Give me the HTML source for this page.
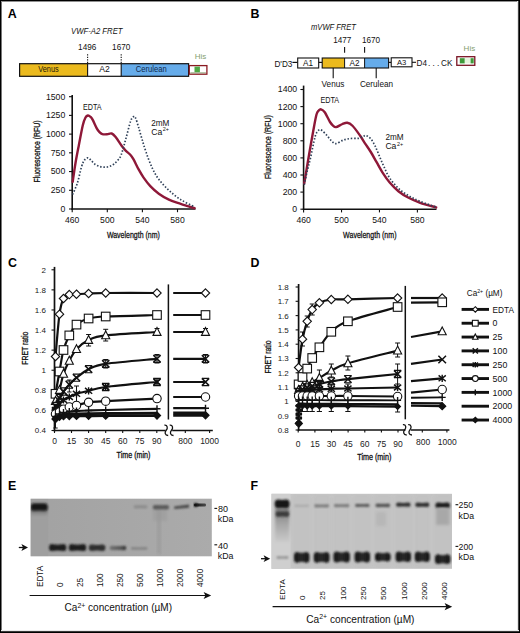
<!DOCTYPE html>
<html><head><meta charset="utf-8"><title>FRET figure</title>
<style>html,body{margin:0;padding:0;background:#fff;}body{width:520px;height:633px;overflow:hidden;position:relative;font-family:"Liberation Sans",sans-serif;}</style>
</head><body>
<svg width="520" height="633" viewBox="0 0 520 633" style="position:absolute;left:0;top:0">
<defs>
<filter id="b6" x="-20%" y="-50%" width="140%" height="200%"><feGaussianBlur stdDeviation="0.6"/></filter>
<filter id="b7" x="-20%" y="-50%" width="140%" height="200%"><feGaussianBlur stdDeviation="0.7"/></filter>
<filter id="b8" x="-20%" y="-50%" width="140%" height="200%"><feGaussianBlur stdDeviation="0.8"/></filter>
<filter id="b9" x="-20%" y="-50%" width="140%" height="200%"><feGaussianBlur stdDeviation="0.9"/></filter>
<filter id="b10" x="-20%" y="-50%" width="140%" height="200%"><feGaussianBlur stdDeviation="1.0"/></filter>
<filter id="b11" x="-20%" y="-50%" width="140%" height="200%"><feGaussianBlur stdDeviation="1.1"/></filter>
<filter id="b12" x="-20%" y="-50%" width="140%" height="200%"><feGaussianBlur stdDeviation="1.2"/></filter>
<filter id="b15" x="-20%" y="-20%" width="140%" height="140%"><feGaussianBlur stdDeviation="1.5"/></filter>
<linearGradient id="gelE" x1="0" y1="0" x2="1" y2="0"><stop offset="0" stop-color="#a2a2a2"/><stop offset="1" stop-color="#ababab"/></linearGradient>
<linearGradient id="l4" x1="0" y1="0" x2="1" y2="0"><stop offset="0" stop-color="#747474"/><stop offset="0.7" stop-color="#555"/><stop offset="1" stop-color="#2e2e2e"/></linearGradient>
<linearGradient id="smearE" x1="0" y1="0" x2="0" y2="1"><stop offset="0" stop-color="#444"/><stop offset="1" stop-color="#9c9c9c" stop-opacity="0"/></linearGradient>
<clipPath id="clipE"><rect x="30.6" y="498.7" width="181.2" height="57.6"/></clipPath>
<clipPath id="clipF"><rect x="271.5" y="493.8" width="180.5" height="75"/></clipPath>
<linearGradient id="dbF" x1="0" y1="0" x2="1" y2="0"><stop offset="0" stop-color="#121212"/><stop offset="0.5" stop-color="#2a2a2a"/><stop offset="1" stop-color="#121212"/></linearGradient>
<linearGradient id="b4000" x1="0" y1="0" x2="1" y2="0"><stop offset="0" stop-color="#181818"/><stop offset="1" stop-color="#4a4a4a"/></linearGradient>
<linearGradient id="smear" x1="0" y1="0" x2="0" y2="1"><stop offset="0" stop-color="#7a7a7a"/><stop offset="0.5" stop-color="#a8a8a8"/><stop offset="1" stop-color="#cacaca"/></linearGradient>
</defs>
<g font-family='"Liberation Sans", sans-serif'>
<rect x="0" y="0" width="520" height="633" fill="#fff"/>
<g shape-rendering="crispEdges">
<rect x="1" y="0" width="1" height="633" fill="#787878"/>
<rect x="0" y="1" width="520" height="1" fill="#909090"/>
<rect x="517" y="0" width="1" height="633" fill="#e8e8e8"/>
<rect x="518" y="0" width="1" height="633" fill="#444"/>
<rect x="0" y="630" width="520" height="1" fill="#ececec"/>
<rect x="0" y="631" width="520" height="1" fill="#3a3a3a"/>
<rect x="0" y="0" width="1" height="633" fill="#000"/>
<rect x="0" y="0" width="520" height="1" fill="#000"/>
<rect x="519" y="0" width="1" height="633" fill="#000"/>
<rect x="0" y="632" width="520" height="1" fill="#000"/>
</g>
<text x="7.70" y="17.90" font-size="12.4" text-anchor="start" fill="#000" font-weight="bold" >A</text>
<text x="250.60" y="18.10" font-size="12.4" text-anchor="start" fill="#000" font-weight="bold" >B</text>
<text x="8.00" y="267.20" font-size="12.4" text-anchor="start" fill="#000" font-weight="bold" >C</text>
<text x="250.60" y="266.90" font-size="12.4" text-anchor="start" fill="#000" font-weight="bold" >D</text>
<text x="8.00" y="489.70" font-size="12.4" text-anchor="start" fill="#000" font-weight="bold" >E</text>
<text x="250.60" y="489.80" font-size="12.4" text-anchor="start" fill="#000" font-weight="bold" >F</text>
<text x="96.80" y="33.70" font-size="8.8" text-anchor="middle" fill="#111" font-style="italic" textLength="51.5" lengthAdjust="spacingAndGlyphs" >VWF-A2 FRET</text>
<text x="87.20" y="50.00" font-size="8.2" text-anchor="middle" fill="#111" >1496</text>
<text x="121.20" y="50.00" font-size="8.2" text-anchor="middle" fill="#111" >1670</text>
<line x1="87.60" y1="54.20" x2="87.60" y2="63.50" stroke="#111" stroke-width="1.1" stroke-dasharray="1.4,1.1"/>
<line x1="121.20" y1="54.20" x2="121.20" y2="63.50" stroke="#111" stroke-width="1.1" stroke-dasharray="1.4,1.1"/>
<rect x="19.6" y="63.7" width="68" height="12.6" fill="#ebba1e"/>
<rect x="87.6" y="63.7" width="33.6" height="12.6" fill="#fff"/>
<rect x="121.2" y="63.7" width="67.4" height="12.6" fill="#66acea"/>
<rect x="19.6" y="63.7" width="169" height="12.6" fill="none" stroke="#111" stroke-width="1.2"/>
<line x1="87.60" y1="63.70" x2="87.60" y2="76.30" stroke="#111" stroke-width="1.1" />
<line x1="121.20" y1="63.70" x2="121.20" y2="76.30" stroke="#111" stroke-width="1.1" />
<text x="48.50" y="72.00" font-size="8.6" text-anchor="middle" fill="#1a1608" textLength="20.4" lengthAdjust="spacingAndGlyphs" >Venus</text>
<text x="104.60" y="72.30" font-size="8.6" text-anchor="middle" fill="#111" >A2</text>
<text x="151.20" y="72.40" font-size="8.7" text-anchor="middle" fill="#10284a" textLength="31" lengthAdjust="spacingAndGlyphs" >Cerulean</text>
<rect x="189.3" y="65.6" width="17.6" height="8.6" fill="#fff" stroke="#8b1a22" stroke-width="1.3"/>
<rect x="194.5" y="66.6" width="5.4" height="5.6" fill="#4fa844"/>
<rect x="190.3" y="72.2" width="15.6" height="1.2" fill="#6a8a50" opacity="0.6"/>
<text x="200.50" y="59.40" font-size="8.0" text-anchor="middle" fill="#86a070" >His</text>
<line x1="72.20" y1="95.00" x2="72.20" y2="209.80" stroke="#111" stroke-width="1.6" />
<line x1="71.40" y1="209.00" x2="195.50" y2="209.00" stroke="#111" stroke-width="1.6" />
<line x1="69.00" y1="209.00" x2="72.20" y2="209.00" stroke="#111" stroke-width="1.1" />
<text x="65.30" y="211.90" font-size="8.5" text-anchor="end" fill="#111" textLength="4.85" lengthAdjust="spacingAndGlyphs" >0</text>
<line x1="69.00" y1="190.28" x2="72.20" y2="190.28" stroke="#111" stroke-width="1.1" />
<text x="65.30" y="193.18" font-size="8.5" text-anchor="end" fill="#111" textLength="14.549999999999999" lengthAdjust="spacingAndGlyphs" >250</text>
<line x1="69.00" y1="171.56" x2="72.20" y2="171.56" stroke="#111" stroke-width="1.1" />
<text x="65.30" y="174.46" font-size="8.5" text-anchor="end" fill="#111" textLength="14.549999999999999" lengthAdjust="spacingAndGlyphs" >500</text>
<line x1="69.00" y1="152.84" x2="72.20" y2="152.84" stroke="#111" stroke-width="1.1" />
<text x="65.30" y="155.74" font-size="8.5" text-anchor="end" fill="#111" textLength="14.549999999999999" lengthAdjust="spacingAndGlyphs" >750</text>
<line x1="69.00" y1="134.12" x2="72.20" y2="134.12" stroke="#111" stroke-width="1.1" />
<text x="65.30" y="137.02" font-size="8.5" text-anchor="end" fill="#111" textLength="19.4" lengthAdjust="spacingAndGlyphs" >1000</text>
<line x1="69.00" y1="115.40" x2="72.20" y2="115.40" stroke="#111" stroke-width="1.1" />
<text x="65.30" y="118.30" font-size="8.5" text-anchor="end" fill="#111" textLength="19.4" lengthAdjust="spacingAndGlyphs" >1250</text>
<line x1="69.00" y1="96.68" x2="72.20" y2="96.68" stroke="#111" stroke-width="1.1" />
<text x="65.30" y="99.58" font-size="8.5" text-anchor="end" fill="#111" textLength="19.4" lengthAdjust="spacingAndGlyphs" >1500</text>
<line x1="72.20" y1="209.00" x2="72.20" y2="212.20" stroke="#111" stroke-width="1.1" />
<text x="72.20" y="223.00" font-size="8.5" text-anchor="middle" fill="#111" textLength="14.4" lengthAdjust="spacingAndGlyphs" >460</text>
<line x1="107.30" y1="209.00" x2="107.30" y2="212.20" stroke="#111" stroke-width="1.1" />
<text x="107.30" y="223.00" font-size="8.5" text-anchor="middle" fill="#111" textLength="14.4" lengthAdjust="spacingAndGlyphs" >500</text>
<line x1="142.40" y1="209.00" x2="142.40" y2="212.20" stroke="#111" stroke-width="1.1" />
<text x="142.40" y="223.00" font-size="8.5" text-anchor="middle" fill="#111" textLength="14.4" lengthAdjust="spacingAndGlyphs" >540</text>
<line x1="177.50" y1="209.00" x2="177.50" y2="212.20" stroke="#111" stroke-width="1.1" />
<text x="177.50" y="223.00" font-size="8.5" text-anchor="middle" fill="#111" textLength="14.4" lengthAdjust="spacingAndGlyphs" >580</text>
<text x="133.40" y="237.80" font-size="9.6" text-anchor="middle" fill="#111" textLength="53" lengthAdjust="spacingAndGlyphs" stroke="#111" stroke-width="0.3">Wavelength (nm)</text>
<text x="39.60" y="151.50" font-size="9.4" text-anchor="middle" fill="#111" textLength="62" lengthAdjust="spacingAndGlyphs" transform="rotate(-90 39.60 151.50)" stroke="#111" stroke-width="0.3">Fluorescence (RFU)</text>
<text x="92.30" y="110.00" font-size="8.3" text-anchor="middle" fill="#111" textLength="18.6" lengthAdjust="spacingAndGlyphs" >EDTA</text>
<text x="151.20" y="125.70" font-size="8.6" text-anchor="start" fill="#111" textLength="18.2" lengthAdjust="spacingAndGlyphs" >2mM</text>
<text x="151.20" y="134.50" font-size="8.6" text-anchor="start" fill="#111" >Ca<tspan font-size="5.4" dy="-3.4" dx="0.6">2+</tspan></text>
<path d="M72.70,181.70 C73.17,178.58 74.48,169.05 75.50,163.00 C76.52,156.95 77.58,151.70 78.80,145.40 C80.02,139.10 81.68,129.85 82.80,125.20 C83.92,120.55 84.65,119.12 85.50,117.50 C86.35,115.88 87.07,115.62 87.90,115.50 C88.73,115.38 89.72,116.12 90.50,116.80 C91.28,117.48 91.53,117.63 92.60,119.60 C93.67,121.57 95.75,126.50 96.90,128.60 C98.05,130.70 98.60,131.28 99.50,132.20 C100.40,133.12 101.05,133.75 102.30,134.10 C103.55,134.45 105.43,134.40 107.00,134.30 C108.57,134.20 110.23,133.00 111.70,133.50 C113.17,134.00 114.12,135.22 115.80,137.30 C117.48,139.38 120.12,143.75 121.80,146.00 C123.48,148.25 124.52,149.38 125.90,150.80 C127.28,152.22 128.85,153.12 130.10,154.50 C131.35,155.88 132.00,156.65 133.40,159.10 C134.80,161.55 136.80,166.12 138.50,169.20 C140.20,172.28 141.63,174.78 143.60,177.60 C145.57,180.42 147.77,183.42 150.30,186.10 C152.83,188.78 155.70,191.45 158.80,193.70 C161.90,195.95 165.25,197.92 168.90,199.60 C172.55,201.28 176.42,202.37 180.70,203.80 C184.98,205.23 192.28,207.47 194.60,208.20" fill="none" stroke="#8e1838" stroke-width="2.4" stroke-linecap="round"/>
<path d="M72.60,194.50 C73.40,192.58 75.92,187.60 77.40,183.00 C78.88,178.40 80.32,170.73 81.50,166.90 C82.68,163.07 83.43,161.52 84.50,160.00 C85.57,158.48 86.82,157.77 87.90,157.80 C88.98,157.83 89.83,159.13 91.00,160.20 C92.17,161.27 93.40,163.13 94.90,164.20 C96.40,165.27 98.32,166.10 100.00,166.60 C101.68,167.10 103.42,167.23 105.00,167.20 C106.58,167.17 108.03,166.90 109.50,166.40 C110.97,165.90 112.42,165.23 113.80,164.20 C115.18,163.17 116.57,161.77 117.80,160.20 C119.03,158.63 119.85,158.40 121.20,154.80 C122.55,151.20 124.33,144.20 125.90,138.60 C127.47,133.00 129.32,124.87 130.60,121.20 C131.88,117.53 132.78,117.17 133.60,116.60 C134.42,116.03 134.68,116.07 135.50,117.80 C136.32,119.53 137.43,123.50 138.50,127.00 C139.57,130.50 140.63,134.58 141.90,138.80 C143.17,143.02 144.42,147.52 146.10,152.30 C147.78,157.08 149.88,163.00 152.00,167.50 C154.12,172.00 155.98,175.50 158.80,179.30 C161.62,183.10 165.25,186.92 168.90,190.30 C172.55,193.68 176.42,196.82 180.70,199.60 C184.98,202.38 192.28,205.77 194.60,207.00" fill="none" stroke="#2f4058" stroke-width="1.7" stroke-dasharray="1.5,1.8"/>
<text x="333.50" y="29.70" font-size="8.8" text-anchor="middle" fill="#111" font-style="italic" textLength="45" lengthAdjust="spacingAndGlyphs" >mVWF FRET</text>
<text x="342.30" y="43.20" font-size="8.2" text-anchor="middle" fill="#111" >1477</text>
<text x="371.00" y="43.20" font-size="8.2" text-anchor="middle" fill="#111" >1670</text>
<line x1="344.60" y1="47.00" x2="344.60" y2="52.80" stroke="#111" stroke-width="1.1" />
<line x1="364.60" y1="47.00" x2="364.60" y2="52.80" stroke="#111" stroke-width="1.1" />
<text x="283.40" y="66.70" font-size="8.2" text-anchor="middle" fill="#111" >D'D3</text>
<line x1="292.40" y1="62.40" x2="297.70" y2="62.40" stroke="#111" stroke-width="1.2" />
<rect x="297.7" y="58.0" width="21" height="10.0" fill="#fff" stroke="#111" stroke-width="1.1"/>
<text x="308.00" y="66.20" font-size="8.2" text-anchor="middle" fill="#111" >A1</text>
<line x1="318.70" y1="62.40" x2="322.20" y2="62.40" stroke="#111" stroke-width="1.2" />
<rect x="322.2" y="58.0" width="22.4" height="10.0" fill="#ebba1e"/>
<rect x="344.6" y="58.0" width="20" height="10.0" fill="#fff"/>
<rect x="364.6" y="58.0" width="24" height="10.0" fill="#66acea"/>
<rect x="322.2" y="58.0" width="66.4" height="10.0" fill="none" stroke="#111" stroke-width="1.1"/>
<line x1="344.60" y1="58.00" x2="344.60" y2="68.00" stroke="#111" stroke-width="1.0" />
<line x1="364.60" y1="58.00" x2="364.60" y2="68.00" stroke="#111" stroke-width="1.0" />
<text x="354.60" y="66.20" font-size="8.2" text-anchor="middle" fill="#111" >A2</text>
<line x1="388.60" y1="62.40" x2="391.20" y2="62.40" stroke="#111" stroke-width="1.2" />
<rect x="391.2" y="57.8" width="20.8" height="9" fill="#fff" stroke="#111" stroke-width="1.1"/>
<text x="401.60" y="65.00" font-size="7.6" text-anchor="middle" fill="#111" >A3</text>
<line x1="412.00" y1="62.30" x2="416.00" y2="62.30" stroke="#111" stroke-width="1.1" />
<text x="416.60" y="65.90" font-size="8.2" text-anchor="start" fill="#111" >D4</text>
<text x="428.00" y="65.90" font-size="8.2" text-anchor="start" fill="#111" >. . .</text>
<text x="441.00" y="65.90" font-size="8.2" text-anchor="start" fill="#111" >CK</text>
<rect x="456.8" y="56.7" width="18.0" height="8.6" fill="#fff" stroke="#7a1424" stroke-width="1.3"/>
<rect x="459.8" y="58.2" width="5.0" height="5.2" fill="#3f9a3a"/>
<rect x="464.8" y="58.2" width="5.8" height="5.2" fill="#e4f4dc"/>
<rect x="470.6" y="58.2" width="3.1" height="5.2" fill="#3f9a3a"/>
<text x="469.40" y="51.40" font-size="8.0" text-anchor="middle" fill="#86a070" >His</text>
<line x1="333.20" y1="68.00" x2="333.20" y2="78.20" stroke="#111" stroke-width="1.1" />
<line x1="376.20" y1="68.00" x2="376.20" y2="78.20" stroke="#111" stroke-width="1.1" />
<text x="333.00" y="87.40" font-size="8.2" text-anchor="middle" fill="#111" >Venus</text>
<text x="376.50" y="87.40" font-size="8.2" text-anchor="middle" fill="#111" >Cerulean</text>
<line x1="303.60" y1="85.60" x2="303.60" y2="210.00" stroke="#111" stroke-width="1.6" />
<line x1="302.80" y1="209.20" x2="436.50" y2="209.20" stroke="#111" stroke-width="1.6" />
<line x1="300.40" y1="209.20" x2="303.60" y2="209.20" stroke="#111" stroke-width="1.1" />
<text x="297.20" y="212.10" font-size="8.5" text-anchor="end" fill="#111" textLength="4.85" lengthAdjust="spacingAndGlyphs" >0</text>
<line x1="300.40" y1="192.10" x2="303.60" y2="192.10" stroke="#111" stroke-width="1.1" />
<text x="297.20" y="195.00" font-size="8.5" text-anchor="end" fill="#111" textLength="14.549999999999999" lengthAdjust="spacingAndGlyphs" >200</text>
<line x1="300.40" y1="175.00" x2="303.60" y2="175.00" stroke="#111" stroke-width="1.1" />
<text x="297.20" y="177.90" font-size="8.5" text-anchor="end" fill="#111" textLength="14.549999999999999" lengthAdjust="spacingAndGlyphs" >400</text>
<line x1="300.40" y1="157.90" x2="303.60" y2="157.90" stroke="#111" stroke-width="1.1" />
<text x="297.20" y="160.80" font-size="8.5" text-anchor="end" fill="#111" textLength="14.549999999999999" lengthAdjust="spacingAndGlyphs" >600</text>
<line x1="300.40" y1="140.80" x2="303.60" y2="140.80" stroke="#111" stroke-width="1.1" />
<text x="297.20" y="143.70" font-size="8.5" text-anchor="end" fill="#111" textLength="14.549999999999999" lengthAdjust="spacingAndGlyphs" >800</text>
<line x1="300.40" y1="123.70" x2="303.60" y2="123.70" stroke="#111" stroke-width="1.1" />
<text x="297.20" y="126.60" font-size="8.5" text-anchor="end" fill="#111" textLength="19.4" lengthAdjust="spacingAndGlyphs" >1000</text>
<line x1="300.40" y1="106.60" x2="303.60" y2="106.60" stroke="#111" stroke-width="1.1" />
<text x="297.20" y="109.50" font-size="8.5" text-anchor="end" fill="#111" textLength="19.4" lengthAdjust="spacingAndGlyphs" >1200</text>
<line x1="300.40" y1="89.50" x2="303.60" y2="89.50" stroke="#111" stroke-width="1.1" />
<text x="297.20" y="92.40" font-size="8.5" text-anchor="end" fill="#111" textLength="19.4" lengthAdjust="spacingAndGlyphs" >1400</text>
<line x1="303.60" y1="209.20" x2="303.60" y2="212.40" stroke="#111" stroke-width="1.1" />
<text x="303.60" y="223.10" font-size="8.5" text-anchor="middle" fill="#111" textLength="14.4" lengthAdjust="spacingAndGlyphs" >460</text>
<line x1="341.53" y1="209.20" x2="341.53" y2="212.40" stroke="#111" stroke-width="1.1" />
<text x="341.53" y="223.10" font-size="8.5" text-anchor="middle" fill="#111" textLength="14.4" lengthAdjust="spacingAndGlyphs" >500</text>
<line x1="379.46" y1="209.20" x2="379.46" y2="212.40" stroke="#111" stroke-width="1.1" />
<text x="379.46" y="223.10" font-size="8.5" text-anchor="middle" fill="#111" textLength="14.4" lengthAdjust="spacingAndGlyphs" >540</text>
<line x1="417.39" y1="209.20" x2="417.39" y2="212.40" stroke="#111" stroke-width="1.1" />
<text x="417.39" y="223.10" font-size="8.5" text-anchor="middle" fill="#111" textLength="14.4" lengthAdjust="spacingAndGlyphs" >580</text>
<text x="369.80" y="237.60" font-size="9.6" text-anchor="middle" fill="#111" textLength="53.4" lengthAdjust="spacingAndGlyphs" stroke="#111" stroke-width="0.3">Wavelength (nm)</text>
<text x="271.40" y="147.00" font-size="9.4" text-anchor="middle" fill="#111" textLength="64" lengthAdjust="spacingAndGlyphs" transform="rotate(-90 271.40 147.00)" stroke="#111" stroke-width="0.3">Fluorescence (RFU)</text>
<text x="329.80" y="103.40" font-size="8.3" text-anchor="middle" fill="#111" textLength="18.8" lengthAdjust="spacingAndGlyphs" >EDTA</text>
<text x="385.40" y="139.90" font-size="8.6" text-anchor="start" fill="#111" textLength="18.2" lengthAdjust="spacingAndGlyphs" >2mM</text>
<text x="385.40" y="149.20" font-size="8.6" text-anchor="start" fill="#111" >Ca<tspan font-size="5.4" dy="-3.4" dx="0.6">2+</tspan></text>
<path d="M304.20,183.50 C304.58,181.25 305.70,174.75 306.50,170.00 C307.30,165.25 307.83,161.75 309.00,155.00 C310.17,148.25 312.25,136.25 313.50,129.50 C314.75,122.75 315.62,117.67 316.50,114.50 C317.38,111.33 318.05,111.37 318.80,110.50 C319.55,109.63 320.01,109.01 321.00,109.30 C321.99,109.59 323.25,110.13 324.75,112.25 C326.25,114.37 328.62,119.78 330.00,122.00 C331.38,124.22 332.00,124.75 333.00,125.60 C334.00,126.45 334.50,127.32 336.00,127.10 C337.50,126.88 340.12,124.97 342.00,124.25 C343.88,123.53 345.50,122.50 347.25,122.75 C349.00,123.00 350.38,123.62 352.50,125.75 C354.62,127.88 357.92,132.57 360.00,135.50 C362.08,138.43 363.20,140.55 365.00,143.30 C366.80,146.05 368.87,148.85 370.80,152.00 C372.73,155.15 374.67,158.82 376.60,162.20 C378.53,165.58 380.22,168.92 382.40,172.30 C384.58,175.68 387.03,179.35 389.70,182.50 C392.37,185.65 395.25,188.65 398.40,191.20 C401.55,193.75 404.97,195.87 408.60,197.80 C412.23,199.73 415.60,201.20 420.20,202.80 C424.80,204.40 433.53,206.63 436.20,207.40" fill="none" stroke="#8e1838" stroke-width="2.4" stroke-linecap="round"/>
<path d="M304.20,184.80 C304.67,182.67 305.95,176.47 307.00,172.00 C308.05,167.53 309.17,163.83 310.50,158.00 C311.83,152.17 313.83,141.42 315.00,137.00 C316.17,132.58 316.75,132.70 317.50,131.50 C318.25,130.30 318.75,129.97 319.50,129.80 C320.25,129.63 320.75,129.55 322.00,130.50 C323.25,131.45 325.42,133.75 327.00,135.50 C328.58,137.25 330.00,139.65 331.50,141.00 C333.00,142.35 334.00,143.77 336.00,143.60 C338.00,143.43 341.00,140.85 343.50,140.00 C346.00,139.15 348.50,138.78 351.00,138.50 C353.50,138.22 356.50,138.63 358.50,138.30 C360.50,137.97 361.75,136.97 363.00,136.50 C364.25,136.03 364.70,135.10 366.00,135.50 C367.30,135.90 369.27,137.12 370.80,138.90 C372.33,140.68 373.75,143.30 375.20,146.20 C376.65,149.10 378.05,152.92 379.50,156.30 C380.95,159.68 382.20,162.87 383.90,166.50 C385.60,170.13 387.28,174.47 389.70,178.10 C392.12,181.73 395.25,185.38 398.40,188.30 C401.55,191.22 404.97,193.42 408.60,195.60 C412.23,197.78 415.60,199.48 420.20,201.40 C424.80,203.32 433.53,206.15 436.20,207.10" fill="none" stroke="#2f4058" stroke-width="1.7" stroke-dasharray="1.5,1.8"/>
<line x1="54.50" y1="266.90" x2="54.50" y2="431.30" stroke="#111" stroke-width="1.7" />
<line x1="51.50" y1="430.50" x2="54.50" y2="430.50" stroke="#111" stroke-width="1.1" />
<text x="45.90" y="433.30" font-size="8.0" text-anchor="end" fill="#222" >0.4</text>
<line x1="51.50" y1="410.41" x2="54.50" y2="410.41" stroke="#111" stroke-width="1.1" />
<text x="45.90" y="413.21" font-size="8.0" text-anchor="end" fill="#222" >0.6</text>
<line x1="51.50" y1="390.32" x2="54.50" y2="390.32" stroke="#111" stroke-width="1.1" />
<text x="45.90" y="393.12" font-size="8.0" text-anchor="end" fill="#222" >0.8</text>
<line x1="51.50" y1="370.23" x2="54.50" y2="370.23" stroke="#111" stroke-width="1.1" />
<text x="45.90" y="373.03" font-size="8.0" text-anchor="end" fill="#222" >1</text>
<line x1="51.50" y1="350.14" x2="54.50" y2="350.14" stroke="#111" stroke-width="1.1" />
<text x="45.90" y="352.94" font-size="8.0" text-anchor="end" fill="#222" >1.2</text>
<line x1="51.50" y1="330.05" x2="54.50" y2="330.05" stroke="#111" stroke-width="1.1" />
<text x="45.90" y="332.85" font-size="8.0" text-anchor="end" fill="#222" >1.4</text>
<line x1="51.50" y1="309.96" x2="54.50" y2="309.96" stroke="#111" stroke-width="1.1" />
<text x="45.90" y="312.76" font-size="8.0" text-anchor="end" fill="#222" >1.6</text>
<line x1="51.50" y1="289.87" x2="54.50" y2="289.87" stroke="#111" stroke-width="1.1" />
<text x="45.90" y="292.67" font-size="8.0" text-anchor="end" fill="#222" >1.8</text>
<line x1="51.50" y1="269.78" x2="54.50" y2="269.78" stroke="#111" stroke-width="1.1" />
<text x="45.90" y="272.58" font-size="8.0" text-anchor="end" fill="#222" >2</text>
<line x1="53.70" y1="430.50" x2="165.60" y2="430.50" stroke="#111" stroke-width="1.6" />
<line x1="172.20" y1="430.50" x2="212.80" y2="430.50" stroke="#111" stroke-width="1.6" />
<path d="M164.40,425.10 C167.60,424.70 168.00,428.30 166.20,430.30 C164.40,432.30 164.80,435.50 168.20,435.50" stroke="#111" stroke-width="1.3" fill="none"/>
<path d="M169.70,425.10 C172.90,424.70 173.30,428.30 171.50,430.30 C169.70,432.30 170.10,435.50 173.50,435.50" stroke="#111" stroke-width="1.3" fill="none"/>
<line x1="54.50" y1="430.50" x2="54.50" y2="433.00" stroke="#111" stroke-width="1.1" />
<text x="54.50" y="443.70" font-size="8.5" text-anchor="middle" fill="#222" >0</text>
<line x1="71.50" y1="430.50" x2="71.50" y2="433.00" stroke="#111" stroke-width="1.1" />
<text x="71.50" y="443.70" font-size="8.5" text-anchor="middle" fill="#222" >15</text>
<line x1="88.60" y1="430.50" x2="88.60" y2="433.00" stroke="#111" stroke-width="1.1" />
<text x="88.60" y="443.70" font-size="8.5" text-anchor="middle" fill="#222" >30</text>
<line x1="105.70" y1="430.50" x2="105.70" y2="433.00" stroke="#111" stroke-width="1.1" />
<text x="105.70" y="443.70" font-size="8.5" text-anchor="middle" fill="#222" >45</text>
<line x1="122.70" y1="430.50" x2="122.70" y2="433.00" stroke="#111" stroke-width="1.1" />
<text x="122.70" y="443.70" font-size="8.5" text-anchor="middle" fill="#222" >60</text>
<line x1="139.80" y1="430.50" x2="139.80" y2="433.00" stroke="#111" stroke-width="1.1" />
<text x="139.80" y="443.70" font-size="8.5" text-anchor="middle" fill="#222" >75</text>
<line x1="156.80" y1="430.50" x2="156.80" y2="433.00" stroke="#111" stroke-width="1.1" />
<text x="156.80" y="443.70" font-size="8.5" text-anchor="middle" fill="#222" >90</text>
<line x1="185.30" y1="430.50" x2="185.30" y2="433.00" stroke="#111" stroke-width="1.1" />
<text x="185.30" y="443.70" font-size="8.5" text-anchor="middle" fill="#222" >800</text>
<line x1="209.60" y1="430.50" x2="209.60" y2="433.00" stroke="#111" stroke-width="1.1" />
<text x="209.60" y="443.70" font-size="8.5" text-anchor="middle" fill="#222" >1000</text>
<text x="133.50" y="457.50" font-size="8.9" text-anchor="middle" fill="#111" textLength="33.9" lengthAdjust="spacingAndGlyphs" stroke="#111" stroke-width="0.3">Time (min)</text>
<text x="28.00" y="348.20" font-size="8.9" text-anchor="middle" fill="#111" textLength="33" lengthAdjust="spacingAndGlyphs" transform="rotate(-90 28.00 348.20)" stroke="#111" stroke-width="0.3">FRET ratio</text>
<line x1="168.40" y1="284.40" x2="168.40" y2="419.50" stroke="#111" stroke-width="1.5" />
<path d="M55.50,356.50 C56.17,349.45 58.17,323.87 59.50,314.20 C60.83,304.53 61.87,301.77 63.50,298.50 C65.13,295.23 67.13,295.32 69.30,294.60 C71.47,293.88 73.28,294.38 76.50,294.20 C79.72,294.02 83.73,293.70 88.60,293.50 C93.47,293.30 94.30,293.08 105.70,293.00 C117.10,292.92 148.45,293.00 157.00,293.00" fill="none" stroke="#111" stroke-width="2.2"/>
<line x1="173.20" y1="293.00" x2="205.50" y2="293.00" stroke="#111" stroke-width="2.2" />
<path d="M55.50,393.80 C56.17,390.08 58.17,378.80 59.50,371.50 C60.83,364.20 61.87,356.02 63.50,350.00 C65.13,343.98 67.13,339.63 69.30,335.40 C71.47,331.17 73.28,327.42 76.50,324.60 C79.72,321.78 83.73,319.85 88.60,318.50 C93.47,317.15 94.30,317.08 105.70,316.50 C117.10,315.92 148.45,315.25 157.00,315.00" fill="none" stroke="#111" stroke-width="2.2"/>
<line x1="173.20" y1="315.00" x2="205.50" y2="315.00" stroke="#111" stroke-width="2.2" />
<path d="M55.50,401.00 C56.17,399.17 58.17,394.53 59.50,390.00 C60.83,385.47 61.87,378.67 63.50,373.80 C65.13,368.93 67.13,364.90 69.30,360.80 C71.47,356.70 73.28,352.67 76.50,349.20 C79.72,345.73 83.73,342.30 88.60,340.00 C93.47,337.70 94.30,336.73 105.70,335.40 C117.10,334.07 148.45,332.57 157.00,332.00" fill="none" stroke="#111" stroke-width="2.2"/>
<line x1="173.20" y1="332.00" x2="205.50" y2="332.00" stroke="#111" stroke-width="2.2" />
<path d="M55.50,406.00 C56.17,404.67 58.17,400.42 59.50,398.00 C60.83,395.58 61.87,393.73 63.50,391.50 C65.13,389.27 67.13,386.90 69.30,384.60 C71.47,382.30 73.28,380.27 76.50,377.70 C79.72,375.13 83.73,371.52 88.60,369.20 C93.47,366.88 94.30,365.53 105.70,363.80 C117.10,362.07 148.45,359.63 157.00,358.80" fill="none" stroke="#111" stroke-width="2.2"/>
<line x1="173.20" y1="358.80" x2="205.50" y2="358.80" stroke="#111" stroke-width="2.2" />
<path d="M55.50,410.00 C56.17,409.00 58.17,405.67 59.50,404.00 C60.83,402.33 61.87,401.17 63.50,400.00 C65.13,398.83 67.13,398.03 69.30,397.00 C71.47,395.97 73.28,394.83 76.50,393.80 C79.72,392.77 83.73,391.93 88.60,390.80 C93.47,389.67 94.30,388.47 105.70,387.00 C117.10,385.53 148.45,382.83 157.00,382.00" fill="none" stroke="#111" stroke-width="2.2"/>
<line x1="173.20" y1="382.00" x2="205.50" y2="382.00" stroke="#111" stroke-width="2.2" />
<path d="M55.50,414.00 C56.17,413.67 58.17,412.80 59.50,412.00 C60.83,411.20 61.87,410.03 63.50,409.20 C65.13,408.37 67.13,407.63 69.30,407.00 C71.47,406.37 73.28,406.18 76.50,405.40 C79.72,404.62 83.73,403.00 88.60,402.30 C93.47,401.60 94.30,401.82 105.70,401.20 C117.10,400.58 148.45,399.03 157.00,398.60" fill="none" stroke="#111" stroke-width="2.2"/>
<line x1="173.20" y1="397.00" x2="205.50" y2="397.00" stroke="#111" stroke-width="2.2" />
<path d="M55.50,416.50 C56.17,416.08 58.17,414.67 59.50,414.00 C60.83,413.33 61.87,412.92 63.50,412.50 C65.13,412.08 67.13,411.75 69.30,411.50 C71.47,411.25 73.28,411.17 76.50,411.00 C79.72,410.83 83.73,410.67 88.60,410.50 C93.47,410.33 94.30,410.28 105.70,410.00 C117.10,409.72 148.45,409.00 157.00,408.80" fill="none" stroke="#111" stroke-width="2.2"/>
<line x1="173.20" y1="408.20" x2="205.50" y2="408.20" stroke="#111" stroke-width="2.2" />
<path d="M55.50,418.00 C56.17,417.58 58.17,416.08 59.50,415.50 C60.83,414.92 61.87,414.75 63.50,414.50 C65.13,414.25 67.13,414.12 69.30,414.00 C71.47,413.88 73.28,413.87 76.50,413.80 C79.72,413.73 83.73,413.67 88.60,413.60 C93.47,413.53 94.30,413.47 105.70,413.40 C117.10,413.33 148.45,413.23 157.00,413.20" fill="none" stroke="#111" stroke-width="2.8"/>
<line x1="173.20" y1="412.80" x2="205.50" y2="412.80" stroke="#111" stroke-width="2.8" />
<path d="M55.50,419.00 C56.17,418.63 58.17,417.27 59.50,416.80 C60.83,416.33 61.87,416.33 63.50,416.20 C65.13,416.07 67.13,416.05 69.30,416.00 C71.47,415.95 73.28,415.93 76.50,415.90 C79.72,415.87 83.73,415.83 88.60,415.80 C93.47,415.77 94.30,415.73 105.70,415.70 C117.10,415.67 148.45,415.62 157.00,415.60" fill="none" stroke="#111" stroke-width="2.8"/>
<line x1="173.20" y1="415.30" x2="205.50" y2="415.30" stroke="#111" stroke-width="2.8" />
<path d="M76.50,386.00 V402.00 M74.00,386.00 H79.00 M74.00,402.00 H79.00" stroke="#111" stroke-width="1" fill="none"/>
<path d="M69.30,380.00 V392.00 M67.10,380.00 H71.50 M67.10,392.00 H71.50" stroke="#111" stroke-width="1" fill="none"/>
<path d="M105.70,329.30 V341.00 M103.20,329.30 H108.20 M103.20,341.00 H108.20" stroke="#111" stroke-width="1" fill="none"/>
<path d="M88.60,334.50 V346.00 M86.10,334.50 H91.10 M86.10,346.00 H91.10" stroke="#111" stroke-width="1" fill="none"/>
<path d="M157.00,354.50 V363.00 M154.50,354.50 H159.50 M154.50,363.00 H159.50" stroke="#111" stroke-width="1" fill="none"/>
<path d="M157.00,328.50 V335.00 M154.50,328.50 H159.50 M154.50,335.00 H159.50" stroke="#111" stroke-width="1" fill="none"/>
<path d="M205.50,328.50 V335.00 M203.00,328.50 H208.00 M203.00,335.00 H208.00" stroke="#111" stroke-width="1" fill="none"/>
<path d="M205.50,354.50 V363.00 M203.00,354.50 H208.00 M203.00,363.00 H208.00" stroke="#111" stroke-width="1" fill="none"/>
<path d="M105.70,359.50 V368.00 M103.20,359.50 H108.20 M103.20,368.00 H108.20" stroke="#111" stroke-width="1" fill="none"/>
<path d="M55.50,420.00 V428.00 M53.30,420.00 H57.70 M53.30,428.00 H57.70" stroke="#111" stroke-width="1" fill="none"/>
<path d="M55.50,352.30 L59.70,356.50 L55.50,360.70 L51.30,356.50Z" fill="#fff" stroke="#111" stroke-width="1.1"/>
<path d="M59.50,310.00 L63.70,314.20 L59.50,318.40 L55.30,314.20Z" fill="#fff" stroke="#111" stroke-width="1.1"/>
<path d="M63.50,294.30 L67.70,298.50 L63.50,302.70 L59.30,298.50Z" fill="#fff" stroke="#111" stroke-width="1.1"/>
<path d="M69.30,290.40 L73.50,294.60 L69.30,298.80 L65.10,294.60Z" fill="#fff" stroke="#111" stroke-width="1.1"/>
<path d="M76.50,290.00 L80.70,294.20 L76.50,298.40 L72.30,294.20Z" fill="#fff" stroke="#111" stroke-width="1.1"/>
<path d="M88.60,289.30 L92.80,293.50 L88.60,297.70 L84.40,293.50Z" fill="#fff" stroke="#111" stroke-width="1.1"/>
<path d="M105.70,288.80 L109.90,293.00 L105.70,297.20 L101.50,293.00Z" fill="#fff" stroke="#111" stroke-width="1.1"/>
<path d="M157.00,288.80 L161.20,293.00 L157.00,297.20 L152.80,293.00Z" fill="#fff" stroke="#111" stroke-width="1.1"/>
<path d="M205.50,288.80 L209.70,293.00 L205.50,297.20 L201.30,293.00Z" fill="#fff" stroke="#111" stroke-width="1.1"/>
<rect x="51.20" y="389.50" width="8.60" height="8.60" fill="#fff" stroke="#111" stroke-width="1.1"/>
<rect x="55.20" y="367.20" width="8.60" height="8.60" fill="#fff" stroke="#111" stroke-width="1.1"/>
<rect x="59.20" y="345.70" width="8.60" height="8.60" fill="#fff" stroke="#111" stroke-width="1.1"/>
<rect x="65.00" y="331.10" width="8.60" height="8.60" fill="#fff" stroke="#111" stroke-width="1.1"/>
<rect x="72.20" y="320.30" width="8.60" height="8.60" fill="#fff" stroke="#111" stroke-width="1.1"/>
<rect x="84.30" y="314.20" width="8.60" height="8.60" fill="#fff" stroke="#111" stroke-width="1.1"/>
<rect x="101.40" y="312.20" width="8.60" height="8.60" fill="#fff" stroke="#111" stroke-width="1.1"/>
<rect x="152.70" y="310.70" width="8.60" height="8.60" fill="#fff" stroke="#111" stroke-width="1.1"/>
<rect x="201.20" y="310.70" width="8.60" height="8.60" fill="#fff" stroke="#111" stroke-width="1.1"/>
<path d="M55.50,396.50 L59.55,404.38 L51.45,404.38Z" fill="#fff" stroke="#111" stroke-width="1.1"/>
<path d="M59.50,385.50 L63.55,393.38 L55.45,393.38Z" fill="#fff" stroke="#111" stroke-width="1.1"/>
<path d="M63.50,369.30 L67.55,377.18 L59.45,377.18Z" fill="#fff" stroke="#111" stroke-width="1.1"/>
<path d="M69.30,356.30 L73.35,364.18 L65.25,364.18Z" fill="#fff" stroke="#111" stroke-width="1.1"/>
<path d="M76.50,344.70 L80.55,352.57 L72.45,352.57Z" fill="#fff" stroke="#111" stroke-width="1.1"/>
<path d="M88.60,335.50 L92.65,343.38 L84.55,343.38Z" fill="#fff" stroke="#111" stroke-width="1.1"/>
<path d="M105.70,330.90 L109.75,338.77 L101.65,338.77Z" fill="#fff" stroke="#111" stroke-width="1.1"/>
<path d="M157.00,327.50 L161.05,335.38 L152.95,335.38Z" fill="#fff" stroke="#111" stroke-width="1.1"/>
<path d="M205.50,327.50 L209.55,335.38 L201.45,335.38Z" fill="#fff" stroke="#111" stroke-width="1.1"/>
<path d="M51.90,402.40 L59.10,409.60 M59.10,402.40 L51.90,409.60" stroke="#111" stroke-width="1.5" fill="none"/>
<path d="M51.90,402.40 H59.10 M51.90,409.60 H59.10" stroke="#111" stroke-width="1.1" fill="none"/>
<path d="M55.90,394.40 L63.10,401.60 M63.10,394.40 L55.90,401.60" stroke="#111" stroke-width="1.5" fill="none"/>
<path d="M55.90,394.40 H63.10 M55.90,401.60 H63.10" stroke="#111" stroke-width="1.1" fill="none"/>
<path d="M59.90,387.90 L67.10,395.10 M67.10,387.90 L59.90,395.10" stroke="#111" stroke-width="1.5" fill="none"/>
<path d="M59.90,387.90 H67.10 M59.90,395.10 H67.10" stroke="#111" stroke-width="1.1" fill="none"/>
<path d="M65.70,381.00 L72.90,388.20 M72.90,381.00 L65.70,388.20" stroke="#111" stroke-width="1.5" fill="none"/>
<path d="M65.70,381.00 H72.90 M65.70,388.20 H72.90" stroke="#111" stroke-width="1.1" fill="none"/>
<path d="M72.90,374.10 L80.10,381.30 M80.10,374.10 L72.90,381.30" stroke="#111" stroke-width="1.5" fill="none"/>
<path d="M72.90,374.10 H80.10 M72.90,381.30 H80.10" stroke="#111" stroke-width="1.1" fill="none"/>
<path d="M85.00,365.60 L92.20,372.80 M92.20,365.60 L85.00,372.80" stroke="#111" stroke-width="1.5" fill="none"/>
<path d="M85.00,365.60 H92.20 M85.00,372.80 H92.20" stroke="#111" stroke-width="1.1" fill="none"/>
<path d="M102.10,360.20 L109.30,367.40 M109.30,360.20 L102.10,367.40" stroke="#111" stroke-width="1.5" fill="none"/>
<path d="M102.10,360.20 H109.30 M102.10,367.40 H109.30" stroke="#111" stroke-width="1.1" fill="none"/>
<path d="M153.40,355.20 L160.60,362.40 M160.60,355.20 L153.40,362.40" stroke="#111" stroke-width="1.5" fill="none"/>
<path d="M153.40,355.20 H160.60 M153.40,362.40 H160.60" stroke="#111" stroke-width="1.1" fill="none"/>
<path d="M201.90,355.20 L209.10,362.40 M209.10,355.20 L201.90,362.40" stroke="#111" stroke-width="1.5" fill="none"/>
<path d="M201.90,355.20 H209.10 M201.90,362.40 H209.10" stroke="#111" stroke-width="1.1" fill="none"/>
<path d="M51.90,407.12 L59.10,412.88 M59.10,407.12 L51.90,412.88 M55.50,406.40 V413.60" stroke="#111" stroke-width="1.4" fill="none"/>
<path d="M55.90,401.12 L63.10,406.88 M63.10,401.12 L55.90,406.88 M59.50,400.40 V407.60" stroke="#111" stroke-width="1.4" fill="none"/>
<path d="M59.90,397.12 L67.10,402.88 M67.10,397.12 L59.90,402.88 M63.50,396.40 V403.60" stroke="#111" stroke-width="1.4" fill="none"/>
<path d="M65.70,394.12 L72.90,399.88 M72.90,394.12 L65.70,399.88 M69.30,393.40 V400.60" stroke="#111" stroke-width="1.4" fill="none"/>
<path d="M72.90,390.92 L80.10,396.68 M80.10,390.92 L72.90,396.68 M76.50,390.20 V397.40" stroke="#111" stroke-width="1.4" fill="none"/>
<path d="M85.00,387.92 L92.20,393.68 M92.20,387.92 L85.00,393.68 M88.60,387.20 V394.40" stroke="#111" stroke-width="1.4" fill="none"/>
<path d="M102.10,383.40 L109.30,390.60 M109.30,383.40 L102.10,390.60" stroke="#111" stroke-width="1.5" fill="none"/>
<path d="M102.10,383.40 H109.30 M102.10,390.60 H109.30" stroke="#111" stroke-width="1.1" fill="none"/>
<path d="M102.30,384.28 L109.10,389.72 M109.10,384.28 L102.30,389.72 M105.70,383.60 V390.40" stroke="#111" stroke-width="1.4" fill="none"/>
<path d="M153.40,378.40 L160.60,385.60 M160.60,378.40 L153.40,385.60" stroke="#111" stroke-width="1.5" fill="none"/>
<path d="M153.40,378.40 H160.60 M153.40,385.60 H160.60" stroke="#111" stroke-width="1.1" fill="none"/>
<path d="M153.60,379.28 L160.40,384.72 M160.40,379.28 L153.60,384.72 M157.00,378.60 V385.40" stroke="#111" stroke-width="1.4" fill="none"/>
<path d="M201.90,378.40 L209.10,385.60 M209.10,378.40 L201.90,385.60" stroke="#111" stroke-width="1.5" fill="none"/>
<path d="M201.90,378.40 H209.10 M201.90,385.60 H209.10" stroke="#111" stroke-width="1.1" fill="none"/>
<circle cx="55.50" cy="414.00" r="4.2" fill="#fff" stroke="#111" stroke-width="1.1"/>
<circle cx="59.50" cy="412.00" r="4.2" fill="#fff" stroke="#111" stroke-width="1.1"/>
<circle cx="63.50" cy="409.20" r="4.2" fill="#fff" stroke="#111" stroke-width="1.1"/>
<circle cx="69.30" cy="407.00" r="4.2" fill="#fff" stroke="#111" stroke-width="1.1"/>
<circle cx="76.50" cy="405.40" r="4.2" fill="#fff" stroke="#111" stroke-width="1.1"/>
<circle cx="88.60" cy="402.30" r="4.2" fill="#fff" stroke="#111" stroke-width="1.1"/>
<circle cx="105.70" cy="401.20" r="4.2" fill="#fff" stroke="#111" stroke-width="1.1"/>
<circle cx="157.00" cy="398.60" r="4.2" fill="#fff" stroke="#111" stroke-width="1.1"/>
<circle cx="205.50" cy="397.00" r="4.2" fill="#fff" stroke="#111" stroke-width="1.1"/>
<path d="M52.00,416.50 H59.00 M55.50,413.00 V420.00" stroke="#111" stroke-width="1.4" fill="none"/>
<path d="M56.00,414.00 H63.00 M59.50,410.50 V417.50" stroke="#111" stroke-width="1.4" fill="none"/>
<path d="M60.00,412.50 H67.00 M63.50,409.00 V416.00" stroke="#111" stroke-width="1.4" fill="none"/>
<path d="M65.80,411.50 H72.80 M69.30,408.00 V415.00" stroke="#111" stroke-width="1.4" fill="none"/>
<path d="M73.00,411.00 H80.00 M76.50,407.50 V414.50" stroke="#111" stroke-width="1.4" fill="none"/>
<path d="M85.10,410.50 H92.10 M88.60,407.00 V414.00" stroke="#111" stroke-width="1.4" fill="none"/>
<path d="M102.20,410.00 H109.20 M105.70,406.50 V413.50" stroke="#111" stroke-width="1.4" fill="none"/>
<path d="M153.50,408.80 H160.50 M157.00,405.30 V412.30" stroke="#111" stroke-width="1.4" fill="none"/>
<path d="M202.00,408.20 H209.00 M205.50,404.70 V411.70" stroke="#111" stroke-width="1.4" fill="none"/>
<path d="M55.50,415.40 L59.10,419.00 L55.50,422.60 L51.90,419.00Z" fill="#111" stroke="#111" stroke-width="1.1"/>
<path d="M59.50,413.20 L63.10,416.80 L59.50,420.40 L55.90,416.80Z" fill="#111" stroke="#111" stroke-width="1.1"/>
<path d="M63.50,412.60 L67.10,416.20 L63.50,419.80 L59.90,416.20Z" fill="#111" stroke="#111" stroke-width="1.1"/>
<path d="M69.30,412.40 L72.90,416.00 L69.30,419.60 L65.70,416.00Z" fill="#111" stroke="#111" stroke-width="1.1"/>
<path d="M76.50,412.30 L80.10,415.90 L76.50,419.50 L72.90,415.90Z" fill="#111" stroke="#111" stroke-width="1.1"/>
<path d="M88.60,412.20 L92.20,415.80 L88.60,419.40 L85.00,415.80Z" fill="#111" stroke="#111" stroke-width="1.1"/>
<path d="M105.70,412.10 L109.30,415.70 L105.70,419.30 L102.10,415.70Z" fill="#111" stroke="#111" stroke-width="1.1"/>
<path d="M157.00,412.00 L160.60,415.60 L157.00,419.20 L153.40,415.60Z" fill="#111" stroke="#111" stroke-width="1.1"/>
<path d="M205.50,411.70 L209.10,415.30 L205.50,418.90 L201.90,415.30Z" fill="#111" stroke="#111" stroke-width="1.1"/>
<line x1="298.60" y1="284.00" x2="298.60" y2="430.80" stroke="#111" stroke-width="1.7" />
<line x1="295.60" y1="430.00" x2="298.60" y2="430.00" stroke="#111" stroke-width="1.1" />
<text x="288.80" y="432.90" font-size="8.0" text-anchor="end" fill="#222" >0.8</text>
<line x1="295.60" y1="415.70" x2="298.60" y2="415.70" stroke="#111" stroke-width="1.1" />
<text x="288.80" y="418.60" font-size="8.0" text-anchor="end" fill="#222" >0.9</text>
<line x1="295.60" y1="401.40" x2="298.60" y2="401.40" stroke="#111" stroke-width="1.1" />
<text x="288.80" y="404.30" font-size="8.0" text-anchor="end" fill="#222" >1</text>
<line x1="295.60" y1="387.10" x2="298.60" y2="387.10" stroke="#111" stroke-width="1.1" />
<text x="288.80" y="390.00" font-size="8.0" text-anchor="end" fill="#222" >1.1</text>
<line x1="295.60" y1="372.80" x2="298.60" y2="372.80" stroke="#111" stroke-width="1.1" />
<text x="288.80" y="375.70" font-size="8.0" text-anchor="end" fill="#222" >1.2</text>
<line x1="295.60" y1="358.50" x2="298.60" y2="358.50" stroke="#111" stroke-width="1.1" />
<text x="288.80" y="361.40" font-size="8.0" text-anchor="end" fill="#222" >1.3</text>
<line x1="295.60" y1="344.20" x2="298.60" y2="344.20" stroke="#111" stroke-width="1.1" />
<text x="288.80" y="347.10" font-size="8.0" text-anchor="end" fill="#222" >1.4</text>
<line x1="295.60" y1="329.90" x2="298.60" y2="329.90" stroke="#111" stroke-width="1.1" />
<text x="288.80" y="332.80" font-size="8.0" text-anchor="end" fill="#222" >1.5</text>
<line x1="295.60" y1="315.60" x2="298.60" y2="315.60" stroke="#111" stroke-width="1.1" />
<text x="288.80" y="318.50" font-size="8.0" text-anchor="end" fill="#222" >1.6</text>
<line x1="295.60" y1="301.30" x2="298.60" y2="301.30" stroke="#111" stroke-width="1.1" />
<text x="288.80" y="304.20" font-size="8.0" text-anchor="end" fill="#222" >1.7</text>
<line x1="295.60" y1="287.00" x2="298.60" y2="287.00" stroke="#111" stroke-width="1.1" />
<text x="288.80" y="289.90" font-size="8.0" text-anchor="end" fill="#222" >1.8</text>
<line x1="297.80" y1="430.00" x2="405.50" y2="430.00" stroke="#111" stroke-width="1.6" />
<line x1="410.80" y1="430.00" x2="449.40" y2="430.00" stroke="#111" stroke-width="1.6" />
<path d="M402.90,424.60 C406.10,424.20 406.50,427.80 404.70,429.80 C402.90,431.80 403.30,435.00 406.70,435.00" stroke="#111" stroke-width="1.3" fill="none"/>
<path d="M408.20,424.60 C411.40,424.20 411.80,427.80 410.00,429.80 C408.20,431.80 408.60,435.00 412.00,435.00" stroke="#111" stroke-width="1.3" fill="none"/>
<line x1="298.20" y1="430.00" x2="298.20" y2="432.50" stroke="#111" stroke-width="1.1" />
<text x="298.20" y="447.20" font-size="8.5" text-anchor="middle" fill="#222" >0</text>
<line x1="314.90" y1="430.00" x2="314.90" y2="432.50" stroke="#111" stroke-width="1.1" />
<text x="314.90" y="447.20" font-size="8.5" text-anchor="middle" fill="#222" >15</text>
<line x1="331.50" y1="430.00" x2="331.50" y2="432.50" stroke="#111" stroke-width="1.1" />
<text x="331.50" y="447.20" font-size="8.5" text-anchor="middle" fill="#222" >30</text>
<line x1="348.10" y1="430.00" x2="348.10" y2="432.50" stroke="#111" stroke-width="1.1" />
<text x="348.10" y="447.20" font-size="8.5" text-anchor="middle" fill="#222" >45</text>
<line x1="364.80" y1="430.00" x2="364.80" y2="432.50" stroke="#111" stroke-width="1.1" />
<text x="364.80" y="447.20" font-size="8.5" text-anchor="middle" fill="#222" >60</text>
<line x1="381.40" y1="430.00" x2="381.40" y2="432.50" stroke="#111" stroke-width="1.1" />
<text x="381.40" y="447.20" font-size="8.5" text-anchor="middle" fill="#222" >75</text>
<line x1="398.00" y1="430.00" x2="398.00" y2="432.50" stroke="#111" stroke-width="1.1" />
<text x="398.00" y="447.20" font-size="8.5" text-anchor="middle" fill="#222" >90</text>
<line x1="422.30" y1="430.00" x2="422.30" y2="432.50" stroke="#111" stroke-width="1.1" />
<text x="423.10" y="444.80" font-size="8.5" text-anchor="middle" fill="#222" >800</text>
<line x1="446.90" y1="430.00" x2="446.90" y2="432.50" stroke="#111" stroke-width="1.1" />
<text x="447.20" y="444.80" font-size="8.5" text-anchor="middle" fill="#222" >1000</text>
<text x="374.30" y="460.30" font-size="8.9" text-anchor="middle" fill="#111" textLength="34.1" lengthAdjust="spacingAndGlyphs" stroke="#111" stroke-width="0.3">Time (min)</text>
<text x="271.40" y="357.00" font-size="8.9" text-anchor="middle" fill="#111" textLength="33" lengthAdjust="spacingAndGlyphs" transform="rotate(-90 271.40 357.00)" stroke="#111" stroke-width="0.3">FRET ratio</text>
<line x1="405.30" y1="285.90" x2="405.30" y2="419.30" stroke="#111" stroke-width="1.5" />
<path d="M298.60,367.50 C299.25,362.78 301.07,346.90 302.50,339.20 C303.93,331.50 305.58,326.23 307.20,321.30 C308.82,316.37 310.17,312.68 312.20,309.60 C314.23,306.52 316.22,304.48 319.40,302.80 C322.58,301.12 326.55,300.08 331.30,299.50 C336.05,298.92 336.85,299.55 347.90,299.30 C358.95,299.05 389.32,298.22 397.60,298.00" fill="none" stroke="#111" stroke-width="2.2"/>
<line x1="411.00" y1="298.00" x2="442.20" y2="298.00" stroke="#111" stroke-width="2.2" />
<path d="M298.60,384.40 C299.25,383.17 301.07,379.63 302.50,377.00 C303.93,374.37 305.58,371.77 307.20,368.60 C308.82,365.43 310.17,361.55 312.20,358.00 C314.23,354.45 316.22,351.67 319.40,347.30 C322.58,342.93 326.55,336.13 331.30,331.80 C336.05,327.47 336.85,325.43 347.90,321.30 C358.95,317.17 389.32,309.38 397.60,307.00" fill="none" stroke="#111" stroke-width="2.2"/>
<line x1="411.00" y1="302.60" x2="442.20" y2="302.30" stroke="#111" stroke-width="2.2" />
<path d="M298.60,390.00 C299.25,389.50 301.07,387.83 302.50,387.00 C303.93,386.17 305.58,385.78 307.20,385.00 C308.82,384.22 310.17,383.47 312.20,382.30 C314.23,381.13 316.22,379.93 319.40,378.00 C322.58,376.07 326.55,373.15 331.30,370.70 C336.05,368.25 336.85,366.65 347.90,363.30 C358.95,359.95 389.32,352.72 397.60,350.60" fill="none" stroke="#111" stroke-width="2.2"/>
<line x1="411.00" y1="337.00" x2="442.20" y2="331.40" stroke="#111" stroke-width="2.2" />
<path d="M298.60,392.00 C299.25,391.58 301.07,390.25 302.50,389.50 C303.93,388.75 305.58,388.08 307.20,387.50 C308.82,386.92 310.17,386.58 312.20,386.00 C314.23,385.42 316.22,384.78 319.40,384.00 C322.58,383.22 326.55,382.12 331.30,381.30 C336.05,380.48 336.85,380.32 347.90,379.10 C358.95,377.88 389.32,374.85 397.60,374.00" fill="none" stroke="#111" stroke-width="2.2"/>
<line x1="411.00" y1="363.80" x2="442.20" y2="359.50" stroke="#111" stroke-width="2.2" />
<path d="M298.60,393.50 C299.25,393.25 301.07,392.42 302.50,392.00 C303.93,391.58 305.58,391.33 307.20,391.00 C308.82,390.67 310.17,390.28 312.20,390.00 C314.23,389.72 316.22,389.50 319.40,389.30 C322.58,389.10 326.55,388.93 331.30,388.80 C336.05,388.67 336.85,388.72 347.90,388.50 C358.95,388.28 389.32,387.67 397.60,387.50" fill="none" stroke="#111" stroke-width="2.2"/>
<line x1="411.00" y1="381.20" x2="442.20" y2="378.30" stroke="#111" stroke-width="2.2" />
<path d="M298.60,396.00 C299.25,396.00 301.07,396.00 302.50,396.00 C303.93,396.00 305.58,396.00 307.20,396.00 C308.82,396.00 310.17,396.00 312.20,396.00 C314.23,396.00 316.22,396.00 319.40,396.00 C322.58,396.00 326.55,396.00 331.30,396.00 C336.05,396.00 336.85,395.92 347.90,396.00 C358.95,396.08 389.32,396.42 397.60,396.50" fill="none" stroke="#111" stroke-width="2.2"/>
<line x1="411.00" y1="392.70" x2="442.20" y2="389.50" stroke="#111" stroke-width="2.2" />
<path d="M298.60,400.00 C299.25,400.00 301.07,400.00 302.50,400.00 C303.93,400.00 305.58,399.98 307.20,400.00 C308.82,400.02 310.17,400.08 312.20,400.10 C314.23,400.12 316.22,400.08 319.40,400.10 C322.58,400.12 326.55,400.18 331.30,400.20 C336.05,400.22 336.85,400.17 347.90,400.20 C358.95,400.23 389.32,400.37 397.60,400.40" fill="none" stroke="#111" stroke-width="1.9"/>
<line x1="411.00" y1="397.80" x2="442.20" y2="397.40" stroke="#111" stroke-width="1.9" />
<path d="M298.60,403.60 C299.25,403.62 301.07,403.67 302.50,403.70 C303.93,403.73 305.58,403.77 307.20,403.80 C308.82,403.83 310.17,403.88 312.20,403.90 C314.23,403.92 316.22,403.88 319.40,403.90 C322.58,403.92 326.55,403.97 331.30,404.00 C336.05,404.03 336.85,404.05 347.90,404.10 C358.95,404.15 389.32,404.27 397.60,404.30" fill="none" stroke="#111" stroke-width="2.3"/>
<line x1="411.00" y1="403.20" x2="442.20" y2="403.40" stroke="#111" stroke-width="2.3" />
<path d="M298.60,405.90 C299.25,405.90 301.07,405.88 302.50,405.90 C303.93,405.92 305.58,405.98 307.20,406.00 C308.82,406.02 310.17,406.00 312.20,406.00 C314.23,406.00 316.22,406.00 319.40,406.00 C322.58,406.00 326.55,405.98 331.30,406.00 C336.05,406.02 336.85,406.02 347.90,406.10 C358.95,406.18 389.32,406.43 397.60,406.50" fill="none" stroke="#111" stroke-width="2.3"/>
<line x1="411.00" y1="405.60" x2="442.20" y2="406.20" stroke="#111" stroke-width="2.3" />
<path d="M302.50,384.00 V411.50 M299.90,384.00 H305.10 M299.90,411.50 H305.10" stroke="#111" stroke-width="1" fill="none"/>
<path d="M307.20,384.00 V411.50 M304.60,384.00 H309.80 M304.60,411.50 H309.80" stroke="#111" stroke-width="1" fill="none"/>
<path d="M312.20,384.00 V411.50 M309.60,384.00 H314.80 M309.60,411.50 H314.80" stroke="#111" stroke-width="1" fill="none"/>
<path d="M319.40,384.00 V411.50 M316.80,384.00 H322.00 M316.80,411.50 H322.00" stroke="#111" stroke-width="1" fill="none"/>
<path d="M331.30,384.00 V411.50 M328.70,384.00 H333.90 M328.70,411.50 H333.90" stroke="#111" stroke-width="1" fill="none"/>
<path d="M347.90,384.00 V411.50 M345.30,384.00 H350.50 M345.30,411.50 H350.50" stroke="#111" stroke-width="1" fill="none"/>
<path d="M302.50,332.00 V346.00 M300.00,332.00 H305.00 M300.00,346.00 H305.00" stroke="#111" stroke-width="1" fill="none"/>
<path d="M307.20,316.00 V327.00 M304.70,316.00 H309.70 M304.70,327.00 H309.70" stroke="#111" stroke-width="1" fill="none"/>
<path d="M312.20,304.00 V315.00 M309.70,304.00 H314.70 M309.70,315.00 H314.70" stroke="#111" stroke-width="1" fill="none"/>
<path d="M319.40,370.00 V386.00 M316.90,370.00 H321.90 M316.90,386.00 H321.90" stroke="#111" stroke-width="1" fill="none"/>
<path d="M331.30,364.00 V377.00 M328.80,364.00 H333.80 M328.80,377.00 H333.80" stroke="#111" stroke-width="1" fill="none"/>
<path d="M347.90,356.00 V370.00 M345.40,356.00 H350.40 M345.40,370.00 H350.40" stroke="#111" stroke-width="1" fill="none"/>
<path d="M397.60,343.00 V357.00 M395.10,343.00 H400.10 M395.10,357.00 H400.10" stroke="#111" stroke-width="1" fill="none"/>
<path d="M397.60,364.00 V384.00 M395.10,364.00 H400.10 M395.10,384.00 H400.10" stroke="#111" stroke-width="1" fill="none"/>
<path d="M397.60,394.00 V412.00 M395.10,394.00 H400.10 M395.10,412.00 H400.10" stroke="#111" stroke-width="1" fill="none"/>
<path d="M298.60,405.00 V425.00 M296.10,405.00 H301.10 M296.10,425.00 H301.10" stroke="#111" stroke-width="1" fill="none"/>
<path d="M298.60,363.30 L302.80,367.50 L298.60,371.70 L294.40,367.50Z" fill="#fff" stroke="#111" stroke-width="1.1"/>
<path d="M302.50,335.00 L306.70,339.20 L302.50,343.40 L298.30,339.20Z" fill="#fff" stroke="#111" stroke-width="1.1"/>
<path d="M307.20,317.10 L311.40,321.30 L307.20,325.50 L303.00,321.30Z" fill="#fff" stroke="#111" stroke-width="1.1"/>
<path d="M312.20,305.40 L316.40,309.60 L312.20,313.80 L308.00,309.60Z" fill="#fff" stroke="#111" stroke-width="1.1"/>
<path d="M319.40,298.60 L323.60,302.80 L319.40,307.00 L315.20,302.80Z" fill="#fff" stroke="#111" stroke-width="1.1"/>
<path d="M331.30,295.30 L335.50,299.50 L331.30,303.70 L327.10,299.50Z" fill="#fff" stroke="#111" stroke-width="1.1"/>
<path d="M347.90,295.10 L352.10,299.30 L347.90,303.50 L343.70,299.30Z" fill="#fff" stroke="#111" stroke-width="1.1"/>
<path d="M397.60,293.80 L401.80,298.00 L397.60,302.20 L393.40,298.00Z" fill="#fff" stroke="#111" stroke-width="1.1"/>
<path d="M442.20,293.80 L446.40,298.00 L442.20,302.20 L438.00,298.00Z" fill="#fff" stroke="#111" stroke-width="1.1"/>
<rect x="294.30" y="380.10" width="8.60" height="8.60" fill="#fff" stroke="#111" stroke-width="1.1"/>
<rect x="298.20" y="372.70" width="8.60" height="8.60" fill="#fff" stroke="#111" stroke-width="1.1"/>
<rect x="302.90" y="364.30" width="8.60" height="8.60" fill="#fff" stroke="#111" stroke-width="1.1"/>
<rect x="307.90" y="353.70" width="8.60" height="8.60" fill="#fff" stroke="#111" stroke-width="1.1"/>
<rect x="315.10" y="343.00" width="8.60" height="8.60" fill="#fff" stroke="#111" stroke-width="1.1"/>
<rect x="327.00" y="327.50" width="8.60" height="8.60" fill="#fff" stroke="#111" stroke-width="1.1"/>
<rect x="343.60" y="317.00" width="8.60" height="8.60" fill="#fff" stroke="#111" stroke-width="1.1"/>
<rect x="393.30" y="302.70" width="8.60" height="8.60" fill="#fff" stroke="#111" stroke-width="1.1"/>
<rect x="437.90" y="298.00" width="8.60" height="8.60" fill="#fff" stroke="#111" stroke-width="1.1"/>
<path d="M298.60,385.50 L302.65,393.38 L294.55,393.38Z" fill="#fff" stroke="#111" stroke-width="1.1"/>
<path d="M302.50,382.50 L306.55,390.38 L298.45,390.38Z" fill="#fff" stroke="#111" stroke-width="1.1"/>
<path d="M307.20,380.50 L311.25,388.38 L303.15,388.38Z" fill="#fff" stroke="#111" stroke-width="1.1"/>
<path d="M312.20,377.80 L316.25,385.68 L308.15,385.68Z" fill="#fff" stroke="#111" stroke-width="1.1"/>
<path d="M319.40,373.50 L323.45,381.38 L315.35,381.38Z" fill="#fff" stroke="#111" stroke-width="1.1"/>
<path d="M331.30,366.20 L335.35,374.07 L327.25,374.07Z" fill="#fff" stroke="#111" stroke-width="1.1"/>
<path d="M347.90,358.80 L351.95,366.68 L343.85,366.68Z" fill="#fff" stroke="#111" stroke-width="1.1"/>
<path d="M397.60,346.10 L401.65,353.98 L393.55,353.98Z" fill="#fff" stroke="#111" stroke-width="1.1"/>
<path d="M442.20,326.90 L446.25,334.77 L438.15,334.77Z" fill="#fff" stroke="#111" stroke-width="1.1"/>
<path d="M295.00,388.40 L302.20,395.60 M302.20,388.40 L295.00,395.60" stroke="#111" stroke-width="1.5" fill="none"/>
<path d="M295.00,388.40 H302.20 M295.00,395.60 H302.20" stroke="#111" stroke-width="1.1" fill="none"/>
<path d="M298.90,385.90 L306.10,393.10 M306.10,385.90 L298.90,393.10" stroke="#111" stroke-width="1.5" fill="none"/>
<path d="M298.90,385.90 H306.10 M298.90,393.10 H306.10" stroke="#111" stroke-width="1.1" fill="none"/>
<path d="M303.60,383.90 L310.80,391.10 M310.80,383.90 L303.60,391.10" stroke="#111" stroke-width="1.5" fill="none"/>
<path d="M303.60,383.90 H310.80 M303.60,391.10 H310.80" stroke="#111" stroke-width="1.1" fill="none"/>
<path d="M308.60,382.40 L315.80,389.60 M315.80,382.40 L308.60,389.60" stroke="#111" stroke-width="1.5" fill="none"/>
<path d="M308.60,382.40 H315.80 M308.60,389.60 H315.80" stroke="#111" stroke-width="1.1" fill="none"/>
<path d="M315.80,380.40 L323.00,387.60 M323.00,380.40 L315.80,387.60" stroke="#111" stroke-width="1.5" fill="none"/>
<path d="M315.80,380.40 H323.00 M315.80,387.60 H323.00" stroke="#111" stroke-width="1.1" fill="none"/>
<path d="M327.70,377.70 L334.90,384.90 M334.90,377.70 L327.70,384.90" stroke="#111" stroke-width="1.5" fill="none"/>
<path d="M327.70,377.70 H334.90 M327.70,384.90 H334.90" stroke="#111" stroke-width="1.1" fill="none"/>
<path d="M344.30,375.50 L351.50,382.70 M351.50,375.50 L344.30,382.70" stroke="#111" stroke-width="1.5" fill="none"/>
<path d="M344.30,375.50 H351.50 M344.30,382.70 H351.50" stroke="#111" stroke-width="1.1" fill="none"/>
<path d="M394.00,370.40 L401.20,377.60 M401.20,370.40 L394.00,377.60" stroke="#111" stroke-width="1.5" fill="none"/>
<path d="M394.00,370.40 H401.20 M394.00,377.60 H401.20" stroke="#111" stroke-width="1.1" fill="none"/>
<path d="M438.40,355.70 L446.00,363.30 M446.00,355.70 L438.40,363.30" stroke="#111" stroke-width="1.5" fill="none"/>
<path d="M295.00,390.62 L302.20,396.38 M302.20,390.62 L295.00,396.38 M298.60,389.90 V397.10" stroke="#111" stroke-width="1.4" fill="none"/>
<path d="M298.90,389.12 L306.10,394.88 M306.10,389.12 L298.90,394.88 M302.50,388.40 V395.60" stroke="#111" stroke-width="1.4" fill="none"/>
<path d="M303.60,388.12 L310.80,393.88 M310.80,388.12 L303.60,393.88 M307.20,387.40 V394.60" stroke="#111" stroke-width="1.4" fill="none"/>
<path d="M308.60,387.12 L315.80,392.88 M315.80,387.12 L308.60,392.88 M312.20,386.40 V393.60" stroke="#111" stroke-width="1.4" fill="none"/>
<path d="M315.80,386.42 L323.00,392.18 M323.00,386.42 L315.80,392.18 M319.40,385.70 V392.90" stroke="#111" stroke-width="1.4" fill="none"/>
<path d="M327.70,385.92 L334.90,391.68 M334.90,385.92 L327.70,391.68 M331.30,385.20 V392.40" stroke="#111" stroke-width="1.4" fill="none"/>
<path d="M344.30,385.62 L351.50,391.38 M351.50,385.62 L344.30,391.38 M347.90,384.90 V392.10" stroke="#111" stroke-width="1.4" fill="none"/>
<path d="M394.00,384.62 L401.20,390.38 M401.20,384.62 L394.00,390.38 M397.60,383.90 V391.10" stroke="#111" stroke-width="1.4" fill="none"/>
<path d="M438.60,375.42 L445.80,381.18 M445.80,375.42 L438.60,381.18 M442.20,374.70 V381.90" stroke="#111" stroke-width="1.4" fill="none"/>
<circle cx="298.60" cy="396.00" r="4.2" fill="#fff" stroke="#111" stroke-width="1.1"/>
<circle cx="302.50" cy="396.00" r="4.2" fill="#fff" stroke="#111" stroke-width="1.1"/>
<circle cx="307.20" cy="396.00" r="4.2" fill="#fff" stroke="#111" stroke-width="1.1"/>
<circle cx="312.20" cy="396.00" r="4.2" fill="#fff" stroke="#111" stroke-width="1.1"/>
<circle cx="319.40" cy="396.00" r="4.2" fill="#fff" stroke="#111" stroke-width="1.1"/>
<circle cx="331.30" cy="396.00" r="4.2" fill="#fff" stroke="#111" stroke-width="1.1"/>
<circle cx="347.90" cy="396.00" r="4.2" fill="#fff" stroke="#111" stroke-width="1.1"/>
<circle cx="397.60" cy="396.50" r="4.2" fill="#fff" stroke="#111" stroke-width="1.1"/>
<circle cx="442.20" cy="389.50" r="4.2" fill="#fff" stroke="#111" stroke-width="1.1"/>
<path d="M295.10,400.00 H302.10 M298.60,396.50 V403.50" stroke="#111" stroke-width="1.4" fill="none"/>
<path d="M299.00,400.00 H306.00 M302.50,396.50 V403.50" stroke="#111" stroke-width="1.4" fill="none"/>
<path d="M303.70,400.00 H310.70 M307.20,396.50 V403.50" stroke="#111" stroke-width="1.4" fill="none"/>
<path d="M308.70,400.10 H315.70 M312.20,396.60 V403.60" stroke="#111" stroke-width="1.4" fill="none"/>
<path d="M315.90,400.10 H322.90 M319.40,396.60 V403.60" stroke="#111" stroke-width="1.4" fill="none"/>
<path d="M327.80,400.20 H334.80 M331.30,396.70 V403.70" stroke="#111" stroke-width="1.4" fill="none"/>
<path d="M344.40,400.20 H351.40 M347.90,396.70 V403.70" stroke="#111" stroke-width="1.4" fill="none"/>
<path d="M394.10,400.40 H401.10 M397.60,396.90 V403.90" stroke="#111" stroke-width="1.4" fill="none"/>
<path d="M438.70,397.40 H445.70 M442.20,393.90 V400.90" stroke="#111" stroke-width="1.4" fill="none"/>
<path d="M298.60,403.00 L301.50,405.90 L298.60,408.80 L295.70,405.90Z" fill="#111" stroke="#111" stroke-width="1.1"/>
<path d="M302.50,403.00 L305.40,405.90 L302.50,408.80 L299.60,405.90Z" fill="#111" stroke="#111" stroke-width="1.1"/>
<path d="M307.20,403.10 L310.10,406.00 L307.20,408.90 L304.30,406.00Z" fill="#111" stroke="#111" stroke-width="1.1"/>
<path d="M312.20,403.10 L315.10,406.00 L312.20,408.90 L309.30,406.00Z" fill="#111" stroke="#111" stroke-width="1.1"/>
<path d="M319.40,403.10 L322.30,406.00 L319.40,408.90 L316.50,406.00Z" fill="#111" stroke="#111" stroke-width="1.1"/>
<path d="M331.30,403.10 L334.20,406.00 L331.30,408.90 L328.40,406.00Z" fill="#111" stroke="#111" stroke-width="1.1"/>
<path d="M347.90,403.20 L350.80,406.10 L347.90,409.00 L345.00,406.10Z" fill="#111" stroke="#111" stroke-width="1.1"/>
<path d="M397.60,403.60 L400.50,406.50 L397.60,409.40 L394.70,406.50Z" fill="#111" stroke="#111" stroke-width="1.1"/>
<path d="M442.20,402.60 L445.80,406.20 L442.20,409.80 L438.60,406.20Z" fill="#111" stroke="#111" stroke-width="1.1"/>
<path d="M295.80,405.00 L301.80,411.00 M301.80,405.00 L295.80,411.00" stroke="#111" stroke-width="1.5" fill="none"/>
<path d="M295.80,405.00 H301.80 M295.80,411.00 H301.80" stroke="#111" stroke-width="1.1" fill="none"/>
<path d="M295.80,409.00 L301.80,415.00 M301.80,409.00 L295.80,415.00" stroke="#111" stroke-width="1.5" fill="none"/>
<path d="M295.80,409.00 H301.80 M295.80,415.00 H301.80" stroke="#111" stroke-width="1.1" fill="none"/>
<path d="M295.80,413.00 L301.80,419.00 M301.80,413.00 L295.80,419.00" stroke="#111" stroke-width="1.5" fill="none"/>
<path d="M295.80,413.00 H301.80 M295.80,419.00 H301.80" stroke="#111" stroke-width="1.1" fill="none"/>
<path d="M295.80,417.00 L301.80,423.00 M301.80,417.00 L295.80,423.00" stroke="#111" stroke-width="1.5" fill="none"/>
<path d="M295.80,417.00 H301.80 M295.80,423.00 H301.80" stroke="#111" stroke-width="1.1" fill="none"/>
<path d="M298.80,420.00 L302.40,423.60 L298.80,427.20 L295.20,423.60Z" fill="#111" stroke="#111" stroke-width="1.1"/>
<text x="484.60" y="296.00" font-size="8.2" text-anchor="middle" fill="#111" >Ca<tspan font-size="5.2" dy="-3">2+</tspan><tspan dy="3"> (µM)</tspan></text>
<line x1="461.60" y1="309.40" x2="489.00" y2="309.40" stroke="#111" stroke-width="2.9" />
<path d="M475.30,306.70 L478.00,309.40 L475.30,312.10 L472.60,309.40Z" fill="#fff" stroke="#111" stroke-width="1.1"/>
<text x="492.60" y="312.60" font-size="8.8" text-anchor="start" fill="#111" textLength="21.4" lengthAdjust="spacingAndGlyphs" >EDTA</text>
<line x1="461.60" y1="323.23" x2="489.00" y2="323.23" stroke="#111" stroke-width="2.9" />
<rect x="472.40" y="320.33" width="5.80" height="5.80" fill="#fff" stroke="#111" stroke-width="1.1"/>
<text x="492.60" y="326.43" font-size="8.8" text-anchor="start" fill="#111" >0</text>
<line x1="461.60" y1="337.06" x2="489.00" y2="337.06" stroke="#111" stroke-width="2.9" />
<path d="M475.30,334.06 L478.00,339.31 L472.60,339.31Z" fill="#fff" stroke="#111" stroke-width="1.1"/>
<text x="492.60" y="340.26" font-size="8.8" text-anchor="start" fill="#111" >25</text>
<line x1="461.60" y1="350.89" x2="489.00" y2="350.89" stroke="#111" stroke-width="2.9" />
<path d="M472.70,348.29 L477.90,353.49 M477.90,348.29 L472.70,353.49" stroke="#111" stroke-width="1.5" fill="none"/>
<text x="492.60" y="354.09" font-size="8.8" text-anchor="start" fill="#111" >100</text>
<line x1="461.60" y1="364.72" x2="489.00" y2="364.72" stroke="#111" stroke-width="2.9" />
<path d="M472.60,362.56 L478.00,366.88 M478.00,362.56 L472.60,366.88 M475.30,362.02 V367.42" stroke="#111" stroke-width="1.4" fill="none"/>
<text x="492.60" y="367.92" font-size="8.8" text-anchor="start" fill="#111" >250</text>
<line x1="461.60" y1="378.55" x2="489.00" y2="378.55" stroke="#111" stroke-width="2.9" />
<circle cx="475.30" cy="378.55" r="2.9" fill="#fff" stroke="#111" stroke-width="1.1"/>
<text x="492.60" y="381.75" font-size="8.8" text-anchor="start" fill="#111" >500</text>
<line x1="461.60" y1="392.38" x2="489.00" y2="392.38" stroke="#111" stroke-width="2.9" />
<path d="M472.50,392.38 H478.10 M475.30,389.58 V395.18" stroke="#111" stroke-width="1.4" fill="none"/>
<text x="492.60" y="395.58" font-size="8.8" text-anchor="start" fill="#111" >1000</text>
<line x1="461.60" y1="406.21" x2="489.00" y2="406.21" stroke="#111" stroke-width="2.9" />
<text x="492.60" y="409.41" font-size="8.8" text-anchor="start" fill="#111" >2000</text>
<line x1="461.60" y1="420.04" x2="489.00" y2="420.04" stroke="#111" stroke-width="2.9" />
<path d="M475.30,417.24 L478.10,420.04 L475.30,422.84 L472.50,420.04Z" fill="#111" stroke="#111" stroke-width="1.1"/>
<text x="492.60" y="423.24" font-size="8.8" text-anchor="start" fill="#111" >4000</text>
<rect x="30.6" y="498.7" width="181.20" height="57.60" fill="url(#gelE)"/>
<g clip-path="url(#clipE)">
<rect x="30.6" y="498.7" width="17.5" height="57.60" fill="#9c9c9c" opacity="0.5"/>
<rect x="157.5" y="506" width="3.5" height="48" fill="#909090" opacity="0.45" filter="url(#b15)"/>
<rect x="153" y="509" width="14" height="12" fill="#999" opacity="0.5" filter="url(#b15)"/>
<rect x="31" y="508" width="16.5" height="10" fill="url(#smearE)" filter="url(#b10)"/>
<path d="M30.80,506.80 L30.80,506.47 Q30.80,503.20 34.07,503.20 Q39.25,503.49 44.43,503.20 Q47.70,503.20 47.70,506.47 L47.70,507.13 Q47.70,510.40 44.43,510.40 Q39.25,510.11 34.07,510.40 Q30.80,510.40 30.80,507.13Z" fill="#181818" opacity="1.0" filter="url(#b9)"/>
<path d="M49.00,547.60 L49.00,547.28 Q49.00,544.10 52.18,544.10 Q57.65,545.15 63.12,544.10 Q66.30,544.10 66.30,547.28 L66.30,547.92 Q66.30,551.10 63.12,551.10 Q57.65,550.05 52.18,551.10 Q49.00,551.10 49.00,547.92Z" fill="#1c1c1c" opacity="1.0" filter="url(#b9)"/>
<path d="M68.80,547.60 L68.80,547.28 Q68.80,544.10 71.98,544.10 Q77.50,545.15 83.02,544.10 Q86.20,544.10 86.20,547.28 L86.20,547.92 Q86.20,551.10 83.02,551.10 Q77.50,550.05 71.98,551.10 Q68.80,551.10 68.80,547.92Z" fill="#1e1e1e" opacity="1.0" filter="url(#b9)"/>
<path d="M88.80,547.80 L88.80,547.51 Q88.80,544.60 91.71,544.60 Q97.10,545.56 102.49,544.60 Q105.40,544.60 105.40,547.51 L105.40,548.09 Q105.40,551.00 102.49,551.00 Q97.10,550.04 91.71,551.00 Q88.80,551.00 88.80,548.09Z" fill="#2e2e2e" opacity="1.0" filter="url(#b9)"/>
<path d="M109.60,548.00 L109.60,547.79 Q109.60,545.70 111.69,545.70 Q117.90,546.27 124.11,545.70 Q126.20,545.70 126.20,547.79 L126.20,548.21 Q126.20,550.30 124.11,550.30 Q117.90,549.73 111.69,550.30 Q109.60,550.30 109.60,548.21Z" fill="url(#l4)" opacity="1.0" filter="url(#b9)"/>
<path d="M131.00,548.40 L131.00,548.27 Q131.00,547.00 132.27,547.00 Q139.20,547.28 146.13,547.00 Q147.40,547.00 147.40,548.27 L147.40,548.53 Q147.40,549.80 146.13,549.80 Q139.20,549.52 132.27,549.80 Q131.00,549.80 131.00,548.53Z" fill="#858585" opacity="1.0" filter="url(#b8)"/>
<path d="M133.70,506.80 L133.70,506.65 Q133.70,505.20 135.15,505.20 Q140.55,505.52 145.95,505.20 Q147.40,505.20 147.40,506.65 L147.40,506.95 Q147.40,508.40 145.95,508.40 Q140.55,508.08 135.15,508.40 Q133.70,508.40 133.70,506.95Z" fill="#8c8c8c" opacity="1.0" filter="url(#b8)"/>
<path d="M152.90,507.30 L152.90,507.10 Q152.90,505.10 154.90,505.10 Q160.95,505.43 167.00,505.10 Q169.00,505.10 169.00,507.10 L169.00,507.50 Q169.00,509.50 167.00,509.50 Q160.95,509.17 154.90,509.50 Q152.90,509.50 152.90,507.50Z" fill="#5a5a5a" opacity="1.0" filter="url(#b8)"/>
<path d="M174.2,506.6 L189.0,504.6 L189.0,507.8 L174.2,509.0Z" fill="#4a4a4a" filter="url(#b8)"/>
<path d="M194.00,505.00 L194.00,504.85 Q194.00,503.40 195.45,503.40 Q200.00,503.56 204.55,503.40 Q206.00,503.40 206.00,504.85 L206.00,505.15 Q206.00,506.60 204.55,506.60 Q200.00,506.44 195.45,506.60 Q194.00,506.60 194.00,505.15Z" fill="url(#b4000)" opacity="1.0" filter="url(#b7)"/>
<rect x="194" y="503.3" width="3.5" height="3.4" fill="#111" filter="url(#b8)"/>
</g>
<line x1="214.40" y1="508.40" x2="217.20" y2="508.40" stroke="#111" stroke-width="1.1" />
<text x="217.90" y="511.80" font-size="9.0" text-anchor="start" fill="#111" >80</text>
<text x="217.80" y="521.60" font-size="8.8" text-anchor="start" fill="#111" >kDa</text>
<line x1="214.40" y1="544.80" x2="217.20" y2="544.80" stroke="#111" stroke-width="1.1" />
<text x="217.90" y="548.70" font-size="9.0" text-anchor="start" fill="#111" >40</text>
<text x="217.80" y="558.60" font-size="8.8" text-anchor="start" fill="#111" >kDa</text>
<path d="M18.8,547.5 H25" stroke="#111" stroke-width="1.3"/>
<path d="M28.0,547.5 L21.4,544.1 L23.0,547.5 L21.4,550.9Z" fill="#111"/>
<text x="43.10" y="587.00" font-size="8.2" text-anchor="start" fill="#111" transform="rotate(-90 43.10 587.00)" >EDTA</text>
<text x="63.10" y="587.00" font-size="8.2" text-anchor="start" fill="#111" transform="rotate(-90 63.10 587.00)" >0</text>
<text x="83.10" y="587.00" font-size="8.2" text-anchor="start" fill="#111" transform="rotate(-90 83.10 587.00)" >25</text>
<text x="103.10" y="587.00" font-size="8.2" text-anchor="start" fill="#111" transform="rotate(-90 103.10 587.00)" >100</text>
<text x="123.10" y="587.00" font-size="8.2" text-anchor="start" fill="#111" transform="rotate(-90 123.10 587.00)" >250</text>
<text x="143.10" y="587.00" font-size="8.2" text-anchor="start" fill="#111" transform="rotate(-90 143.10 587.00)" >500</text>
<text x="163.10" y="587.00" font-size="8.2" text-anchor="start" fill="#111" transform="rotate(-90 163.10 587.00)" >1000</text>
<text x="183.10" y="587.00" font-size="8.2" text-anchor="start" fill="#111" transform="rotate(-90 183.10 587.00)" >2000</text>
<text x="203.10" y="587.00" font-size="8.2" text-anchor="start" fill="#111" transform="rotate(-90 203.10 587.00)" >4000</text>
<path d="M29.6,595.5 H207" stroke="#111" stroke-width="1.2"/>
<path d="M211.2,595.5 L203.6,591.9 L205.4,595.5 L203.6,599.1Z" fill="#111"/>
<text x="118.30" y="611.40" font-size="10.2" text-anchor="middle" fill="#111" textLength="107.5" lengthAdjust="spacingAndGlyphs" >Ca<tspan font-size="7.0" dy="-3.9">2+</tspan><tspan dy="3.9"> concentration (µM)</tspan></text>
<rect x="271.5" y="493.8" width="180.50" height="75.00" fill="#c6c6c6"/>
<rect x="271.5" y="493.8" width="19" height="75.00" fill="#cfcfcf"/>
<g clip-path="url(#clipF)">
<rect x="293.50" y="494.8" width="16.40" height="73.00" fill="#bababa" opacity="0.35" filter="url(#b15)"/>
<rect x="313.30" y="494.8" width="16.70" height="73.00" fill="#bababa" opacity="0.35" filter="url(#b15)"/>
<rect x="333.00" y="494.8" width="17.30" height="73.00" fill="#bababa" opacity="0.35" filter="url(#b15)"/>
<rect x="354.10" y="494.8" width="16.40" height="73.00" fill="#bababa" opacity="0.35" filter="url(#b15)"/>
<rect x="374.50" y="494.8" width="16.60" height="73.00" fill="#bababa" opacity="0.35" filter="url(#b15)"/>
<rect x="395.10" y="494.8" width="16.40" height="73.00" fill="#bababa" opacity="0.35" filter="url(#b15)"/>
<rect x="414.30" y="494.8" width="16.00" height="73.00" fill="#bababa" opacity="0.35" filter="url(#b15)"/>
<rect x="434.50" y="494.8" width="16.40" height="73.00" fill="#bababa" opacity="0.35" filter="url(#b15)"/>
<rect x="275" y="508" width="14.5" height="34" fill="url(#smear)" filter="url(#b15)"/>
<path d="M274.70,503.90 L274.70,503.10 Q274.70,499.60 278.20,499.60 Q282.15,500.25 286.10,499.60 Q289.60,499.60 289.60,503.10 L289.60,504.70 Q289.60,508.20 286.10,508.20 Q282.15,507.55 278.20,508.20 Q274.70,508.20 274.70,504.70Z" fill="#141414" opacity="1.0" filter="url(#b8)"/>
<path d="M275.70,514.00 L275.70,513.75 Q275.70,511.20 278.25,511.20 Q282.45,512.04 286.65,511.20 Q289.20,511.20 289.20,513.75 L289.20,514.25 Q289.20,516.80 286.65,516.80 Q282.45,515.96 278.25,516.80 Q275.70,516.80 275.70,514.25Z" fill="#3a3a3a" opacity="1.0" filter="url(#b10)"/>
<path d="M276.50,557.50 L276.50,557.36 Q276.50,556.00 277.86,556.00 Q282.50,556.30 287.14,556.00 Q288.50,556.00 288.50,557.36 L288.50,557.64 Q288.50,559.00 287.14,559.00 Q282.50,558.70 277.86,559.00 Q276.50,559.00 276.50,557.64Z" fill="#9a9a9a" opacity="1.0" filter="url(#b10)"/>
<path d="M294.00,557.30 L294.00,555.40 Q294.00,551.90 297.50,551.90 Q301.70,553.74 305.90,551.90 Q309.40,551.90 309.40,555.40 L309.40,559.20 Q309.40,562.70 305.90,562.70 Q301.70,560.86 297.50,562.70 Q294.00,562.70 294.00,559.20Z" fill="url(#dbF)" opacity="1.0" filter="url(#b9)"/>
<path d="M313.80,557.30 L313.80,555.40 Q313.80,551.90 317.30,551.90 Q321.65,553.74 326.00,551.90 Q329.50,551.90 329.50,555.40 L329.50,559.20 Q329.50,562.70 326.00,562.70 Q321.65,560.86 317.30,562.70 Q313.80,562.70 313.80,559.20Z" fill="url(#dbF)" opacity="1.0" filter="url(#b9)"/>
<path d="M333.50,557.00 L333.50,555.00 Q333.50,551.50 337.00,551.50 Q341.65,553.37 346.30,551.50 Q349.80,551.50 349.80,555.00 L349.80,559.00 Q349.80,562.50 346.30,562.50 Q341.65,560.63 337.00,562.50 Q333.50,562.50 333.50,559.00Z" fill="url(#dbF)" opacity="1.0" filter="url(#b9)"/>
<path d="M354.60,557.00 L354.60,555.10 Q354.60,551.60 358.10,551.60 Q362.30,553.44 366.50,551.60 Q370.00,551.60 370.00,555.10 L370.00,558.90 Q370.00,562.40 366.50,562.40 Q362.30,560.56 358.10,562.40 Q354.60,562.40 354.60,558.90Z" fill="url(#dbF)" opacity="1.0" filter="url(#b9)"/>
<path d="M375.00,557.00 L375.00,555.90 Q375.00,552.40 378.50,552.40 Q382.80,553.96 387.10,552.40 Q390.60,552.40 390.60,555.90 L390.60,558.10 Q390.60,561.60 387.10,561.60 Q382.80,560.04 378.50,561.60 Q375.00,561.60 375.00,558.10Z" fill="url(#dbF)" opacity="1.0" filter="url(#b9)"/>
<path d="M395.60,556.80 L395.60,555.00 Q395.60,551.50 399.10,551.50 Q403.30,553.30 407.50,551.50 Q411.00,551.50 411.00,555.00 L411.00,558.60 Q411.00,562.10 407.50,562.10 Q403.30,560.30 399.10,562.10 Q395.60,562.10 395.60,558.60Z" fill="url(#dbF)" opacity="1.0" filter="url(#b9)"/>
<path d="M414.80,556.80 L414.80,555.00 Q414.80,551.50 418.30,551.50 Q422.30,553.30 426.30,551.50 Q429.80,551.50 429.80,555.00 L429.80,558.60 Q429.80,562.10 426.30,562.10 Q422.30,560.30 418.30,562.10 Q414.80,562.10 414.80,558.60Z" fill="url(#dbF)" opacity="1.0" filter="url(#b9)"/>
<path d="M435.00,559.20 L435.00,557.80 Q435.00,554.30 438.50,554.30 Q442.70,555.97 446.90,554.30 Q450.40,554.30 450.40,557.80 L450.40,560.60 Q450.40,564.10 446.90,564.10 Q442.70,562.43 438.50,564.10 Q435.00,564.10 435.00,560.60Z" fill="url(#dbF)" opacity="1.0" filter="url(#b9)"/>
<path d="M294.50,505.80 L294.50,505.68 Q294.50,504.50 295.68,504.50 Q301.70,504.89 307.72,504.50 Q308.90,504.50 308.90,505.68 L308.90,505.92 Q308.90,507.10 307.72,507.10 Q301.70,506.71 295.68,507.10 Q294.50,507.10 294.50,505.92Z" fill="#acacac" opacity="1.0" filter="url(#b8)"/>
<path d="M314.30,505.80 L314.30,505.65 Q314.30,504.20 315.75,504.20 Q321.65,504.68 327.55,504.20 Q329.00,504.20 329.00,505.65 L329.00,505.95 Q329.00,507.40 327.55,507.40 Q321.65,506.92 315.75,507.40 Q314.30,507.40 314.30,505.95Z" fill="#7c7c7c" opacity="1.0" filter="url(#b8)"/>
<path d="M334.00,505.60 L334.00,505.45 Q334.00,504.00 335.45,504.00 Q341.65,504.48 347.85,504.00 Q349.30,504.00 349.30,505.45 L349.30,505.75 Q349.30,507.20 347.85,507.20 Q341.65,506.72 335.45,507.20 Q334.00,507.20 334.00,505.75Z" fill="#7a7a7a" opacity="1.0" filter="url(#b8)"/>
<path d="M355.10,505.40 L355.10,505.25 Q355.10,503.70 356.65,503.70 Q362.30,504.21 367.95,503.70 Q369.50,503.70 369.50,505.25 L369.50,505.55 Q369.50,507.10 367.95,507.10 Q362.30,506.59 356.65,507.10 Q355.10,507.10 355.10,505.55Z" fill="#5c5c5c" opacity="1.0" filter="url(#b8)"/>
<path d="M375.50,505.40 L375.50,505.24 Q375.50,503.60 377.14,503.60 Q382.80,504.14 388.46,503.60 Q390.10,503.60 390.10,505.24 L390.10,505.56 Q390.10,507.20 388.46,507.20 Q382.80,506.66 377.14,507.20 Q375.50,507.20 375.50,505.56Z" fill="#555555" opacity="1.0" filter="url(#b8)"/>
<path d="M396.10,504.70 L396.10,504.51 Q396.10,502.60 398.01,502.60 Q403.30,503.23 408.59,502.60 Q410.50,502.60 410.50,504.51 L410.50,504.89 Q410.50,506.80 408.59,506.80 Q403.30,506.17 398.01,506.80 Q396.10,506.80 396.10,504.89Z" fill="#333333" opacity="1.0" filter="url(#b8)"/>
<path d="M415.30,504.80 L415.30,504.60 Q415.30,502.60 417.30,502.60 Q422.30,503.26 427.30,502.60 Q429.30,502.60 429.30,504.60 L429.30,505.00 Q429.30,507.00 427.30,507.00 Q422.30,506.34 417.30,507.00 Q415.30,507.00 415.30,505.00Z" fill="#333333" opacity="1.0" filter="url(#b8)"/>
<path d="M435.50,505.40 L435.50,505.15 Q435.50,502.60 438.05,502.60 Q442.70,503.44 447.35,502.60 Q449.90,502.60 449.90,505.15 L449.90,505.65 Q449.90,508.20 447.35,508.20 Q442.70,507.36 438.05,508.20 Q435.50,508.20 435.50,505.65Z" fill="#1c1c1c" opacity="1.0" filter="url(#b8)"/>
<rect x="436" y="508" width="13.5" height="17" fill="#a8a8a8" filter="url(#b15)"/>
<rect x="376" y="512" width="10" height="14" fill="#b0b0b0" opacity="0.6" filter="url(#b15)"/>
</g>
<line x1="455.50" y1="504.70" x2="458.30" y2="504.70" stroke="#111" stroke-width="1.1" />
<text x="458.60" y="508.30" font-size="8.7" text-anchor="start" fill="#111" >250</text>
<text x="458.60" y="518.80" font-size="8.7" text-anchor="start" fill="#111" >kDa</text>
<line x1="455.50" y1="546.40" x2="458.30" y2="546.40" stroke="#111" stroke-width="1.1" />
<text x="458.60" y="550.10" font-size="8.7" text-anchor="start" fill="#111" >200</text>
<text x="458.60" y="560.30" font-size="8.7" text-anchor="start" fill="#111" >kDa</text>
<path d="M261.0,558.7 H267" stroke="#111" stroke-width="1.3"/>
<path d="M270.2,558.7 L263.6,555.3 L265.2,558.7 L263.6,562.1Z" fill="#111"/>
<text x="284.80" y="600.00" font-size="8.0" text-anchor="start" fill="#111" transform="rotate(-90 284.80 600.00)" >EDTA</text>
<text x="305.10" y="600.00" font-size="8.0" text-anchor="start" fill="#111" transform="rotate(-90 305.10 600.00)" >0</text>
<text x="325.40" y="600.00" font-size="8.0" text-anchor="start" fill="#111" transform="rotate(-90 325.40 600.00)" >25</text>
<text x="345.70" y="600.00" font-size="8.0" text-anchor="start" fill="#111" transform="rotate(-90 345.70 600.00)" >100</text>
<text x="366.00" y="600.00" font-size="8.0" text-anchor="start" fill="#111" transform="rotate(-90 366.00 600.00)" >250</text>
<text x="386.30" y="600.00" font-size="8.0" text-anchor="start" fill="#111" transform="rotate(-90 386.30 600.00)" >500</text>
<text x="406.60" y="600.00" font-size="8.0" text-anchor="start" fill="#111" transform="rotate(-90 406.60 600.00)" >1000</text>
<text x="426.90" y="600.00" font-size="8.0" text-anchor="start" fill="#111" transform="rotate(-90 426.90 600.00)" >2000</text>
<text x="447.20" y="600.00" font-size="8.0" text-anchor="start" fill="#111" transform="rotate(-90 447.20 600.00)" >4000</text>
<path d="M272.6,606.7 H448" stroke="#111" stroke-width="1.2"/>
<path d="M452.2,606.7 L444.6,603.1 L446.4,606.7 L444.6,610.3Z" fill="#111"/>
<text x="360.40" y="623.10" font-size="10.2" text-anchor="middle" fill="#111" textLength="108.2" lengthAdjust="spacingAndGlyphs" >Ca<tspan font-size="7.0" dy="-3.9">2+</tspan><tspan dy="3.9"> concentration (µM)</tspan></text>
</g></svg>
</body></html>
